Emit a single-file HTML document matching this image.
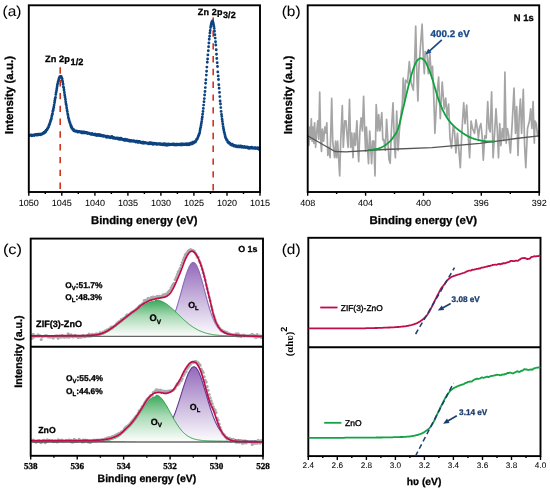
<!DOCTYPE html>
<html><head><meta charset="utf-8"><style>html,body{margin:0;padding:0;background:#fff;overflow:hidden}svg{display:block}text{text-rendering:geometricPrecision}</style></head>
<body><svg width="550" height="491" viewBox="0 0 550 491">
<defs>
<filter id="bl" x="0" y="0" width="550" height="491" filterUnits="userSpaceOnUse"><feGaussianBlur stdDeviation="0.45"/></filter>
<linearGradient id="gv" x1="0" y1="0" x2="0" y2="1"><stop offset="0" stop-color="#3aa85a"/><stop offset="0.45" stop-color="#a9dab5"/><stop offset="1" stop-color="#fdfefd"/></linearGradient>
<linearGradient id="gl" x1="0" y1="0" x2="0" y2="1"><stop offset="0" stop-color="#9468bb"/><stop offset="0.5" stop-color="#c9b6dd"/><stop offset="1" stop-color="#fdfcfe"/></linearGradient>
</defs>
<rect width="550" height="491" fill="#fff"/>
<g filter="url(#bl)">
<path d="M60.2 67.3V189.5M213.2 17.6V191" stroke="#d0361e" stroke-width="1.6" stroke-dasharray="6.4 6.4" fill="none"/>
<path d="M29.4 135.4h0M29.7 135.5h0M30.1 135.3h0M30.4 135.1h0M30.7 135.2h0M31 135h0M31.4 135.4h0M31.7 135.8h0M32 135.2h0M32.4 135.1h0M32.7 135.5h0M33 135.4h0M33.4 135.3h0M33.7 135h0M34 135.3h0M34.3 135.5h0M34.7 134.8h0M35 135h0M35.3 134.5h0M35.7 134.7h0M36 134.5h0M36.3 135h0M36.7 134.6h0M37 135.1h0M37.3 135.1h0M37.6 134.9h0M38 134.1h0M38.3 134.7h0M38.6 134.8h0M39 134.8h0M39.3 134.2h0M39.6 134.5h0M40 134.2h0M40.3 134.2h0M40.6 134.8h0M40.9 134h0M41.3 134.2h0M41.6 134.4h0M41.9 133.7h0M42.3 133.8h0M42.6 133.7h0M42.9 133.5h0M43.3 132.9h0M43.6 133.1h0M43.9 133.3h0M44.2 132.1h0M44.6 132.7h0M44.9 132.1h0M45.2 131.5h0M45.6 132.1h0M45.9 131.3h0M46.2 130.2h0M46.6 130.2h0M46.9 129.9h0M47.2 129.1h0M47.5 128.9h0M47.9 128h0M48.2 127.6h0M48.5 127.2h0M48.9 125.7h0M49.2 125.3h0M49.5 124.2h0M49.9 123.5h0M50.2 122.1h0M50.5 121.2h0M50.8 120.3h0M51.2 119.5h0M51.5 118.3h0M51.8 116.1h0M52.2 114.8h0M52.5 113.8h0M52.8 111.3h0M53.2 110.2h0M53.5 108.5h0M53.8 107.2h0M54.1 105.1h0M54.5 102.8h0M54.8 100.8h0M55.1 98.8h0M55.5 97.4h0M55.8 94.6h0M56.1 92.6h0M56.5 90.8h0M56.8 88.7h0M57.1 86.8h0M57.4 84.7h0M57.8 83.4h0M58.1 81.7h0M58.4 80.9h0M58.8 79.5h0M59.1 78.3h0M59.4 77.7h0M59.8 76.7h0M60.1 76.9h0M60.4 76.4h0M60.7 76.7h0M61.1 76.4h0M61.4 77.6h0M61.7 77.8h0M62.1 78.8h0M62.4 80.8h0M62.7 82.1h0M63.1 84.2h0M63.4 86.9h0M63.7 87.8h0M64 90h0M64.4 92.5h0M64.7 94.9h0M65 96.9h0M65.4 99.2h0M65.7 101.8h0M66 103.9h0M66.4 105.6h0M66.7 108h0M67 110.1h0M67.3 111.6h0M67.7 113.9h0M68 115.3h0M68.3 117.5h0M68.7 118.8h0M69 120.1h0M69.3 121.2h0M69.7 122.5h0M70 122.9h0M70.3 124.2h0M70.6 125.6h0M71 125.5h0M71.3 127.3h0M71.6 127h0M72 128.4h0M72.3 128.4h0M72.6 129.3h0M73 129.5h0M73.3 129.2h0M73.6 130.5h0M73.9 130.8h0M74.3 130.5h0M74.6 130.6h0M74.9 130.8h0M75.3 130.6h0M75.6 131.4h0M75.9 130.9h0M76.3 131.2h0M76.6 131.1h0M76.9 131.2h0M77.2 131.1h0M77.6 132.1h0M77.9 131.7h0M78.2 132.1h0M78.6 131.9h0M78.9 131.7h0M79.2 131.8h0M79.6 131.8h0M79.9 132.1h0M80.2 132h0M80.5 132h0M80.9 131.7h0M81.2 131.9h0M81.5 132.8h0M81.9 132.1h0M82.2 132h0M82.5 132.5h0M82.9 132.9h0M83.2 131.9h0M83.5 132.4h0M83.8 132.3h0M84.2 131.9h0M84.5 132.8h0M84.8 132.6h0M85.2 132.7h0M85.5 132.5h0M85.8 132.9h0M86.2 132.7h0M86.5 132.9h0M86.8 132.6h0M87.1 132.6h0M87.5 133.6h0M87.8 133h0M88.1 133.3h0M88.5 133.3h0M88.8 133.2h0M89.1 133.2h0M89.5 133.7h0M89.8 133.4h0M90.1 133.6h0M90.4 133.7h0M90.8 134.2h0M91.1 134h0M91.4 134h0M91.8 133.7h0M92.1 133.5h0M92.4 134.4h0M92.8 134.5h0M93.1 134.1h0M93.4 134.4h0M93.7 134.6h0M94.1 134.7h0M94.4 134.8h0M94.7 134.3h0M95.1 135.1h0M95.4 134.2h0M95.7 135h0M96.1 134.9h0M96.4 135.1h0M96.7 135.5h0M97 135.5h0M97.4 134.6h0M97.7 134.5h0M98 135.4h0M98.4 134.8h0M98.7 135.3h0M99 135.6h0M99.4 134.8h0M99.7 134.7h0M100 135.6h0M100.3 135.6h0M100.7 135.5h0M101 135.7h0M101.3 135.4h0M101.7 135.3h0M102 135.8h0M102.3 135.6h0M102.7 135.4h0M103 136.2h0M103.3 136.1h0M103.6 136.3h0M104 135.8h0M104.3 136h0M104.6 136h0M105 136.1h0M105.3 136.5h0M105.6 136.2h0M106 136.7h0M106.3 136.7h0M106.6 137.4h0M106.9 136.2h0M107.3 137.1h0M107.6 136.8h0M107.9 136.9h0M108.3 136.4h0M108.6 136.8h0M108.9 137.3h0M109.3 137.1h0M109.6 137.2h0M109.9 137.1h0M110.2 137.7h0M110.6 137.3h0M110.9 136.6h0M111.2 137.2h0M111.6 136.8h0M111.9 136.4h0M112.2 137.4h0M112.6 138.1h0M112.9 137.7h0M113.2 137.4h0M113.5 137.5h0M113.9 138.3h0M114.2 138h0M114.5 138h0M114.9 138h0M115.2 138.1h0M115.5 138.5h0M115.9 138.4h0M116.2 138.4h0M116.5 138h0M116.8 138.6h0M117.2 138.2h0M117.5 138.9h0M117.8 138.1h0M118.2 138.6h0M118.5 138.7h0M118.8 138.3h0M119.2 139.4h0M119.5 139.4h0M119.8 138.7h0M120.1 139.2h0M120.5 139.1h0M120.8 138.2h0M121.1 139.2h0M121.5 139.2h0M121.8 139.3h0M122.1 138.9h0M122.5 139.3h0M122.8 139.3h0M123.1 139.9h0M123.4 139.6h0M123.8 139.6h0M124.1 140.2h0M124.4 139.5h0M124.8 139.6h0M125.1 139.2h0M125.4 140.4h0M125.8 140.2h0M126.1 140.3h0M126.4 140.3h0M126.7 140.1h0M127.1 140.2h0M127.4 140.1h0M127.7 140.2h0M128.1 140.3h0M128.4 140.9h0M128.7 140.6h0M129.1 140.5h0M129.4 140.3h0M129.7 140.4h0M130 141.2h0M130.4 140.9h0M130.7 140.8h0M131 140.7h0M131.4 140.4h0M131.7 140.9h0M132 141.2h0M132.4 140.8h0M132.7 140.9h0M133 141h0M133.3 141.2h0M133.7 140.6h0M134 141.1h0M134.3 141h0M134.7 141.6h0M135 141.1h0M135.3 141.6h0M135.7 142h0M136 141.4h0M136.3 141.3h0M136.6 141.7h0M137 141.6h0M137.3 141.3h0M137.6 141.9h0M138 142.5h0M138.3 141.7h0M138.6 141.8h0M139 141.6h0M139.3 142.1h0M139.6 141.6h0M139.9 141.7h0M140.3 142.6h0M140.6 141.9h0M140.9 142.6h0M141.3 142.8h0M141.6 142.4h0M141.9 142.6h0M142.3 143.1h0M142.6 142.4h0M142.9 142.3h0M143.2 142.1h0M143.6 142.6h0M143.9 143.2h0M144.2 143h0M144.6 142.4h0M144.9 142.5h0M145.2 142.7h0M145.6 143h0M145.9 142.9h0M146.2 143h0M146.5 143.1h0M146.9 143h0M147.2 143.1h0M147.5 143.2h0M147.9 143.2h0M148.2 143.4h0M148.5 143.9h0M148.9 143.5h0M149.2 143.3h0M149.5 142.8h0M149.8 143.5h0M150.2 142.7h0M150.5 142.9h0M150.8 143.8h0M151.2 143.7h0M151.5 143.5h0M151.8 142.9h0M152.2 143.4h0M152.5 143.4h0M152.8 143.8h0M153.1 144.4h0M153.5 143.8h0M153.8 143.4h0M154.1 143.3h0M154.5 143.7h0M154.8 143.7h0M155.1 143.4h0M155.5 143.9h0M155.8 143.5h0M156.1 144.3h0M156.4 144.3h0M156.8 144.3h0M157.1 143.8h0M157.4 144.2h0M157.8 144h0M158.1 143.9h0M158.4 144h0M158.8 143.6h0M159.1 143.6h0M159.4 144.4h0M159.7 144.1h0M160.1 144.3h0M160.4 144.6h0M160.7 143.6h0M161.1 144h0M161.4 144.4h0M161.7 144.5h0M162.1 144.2h0M162.4 144.7h0M162.7 144.4h0M163 144h0M163.4 144.1h0M163.7 144.7h0M164 144.6h0M164.4 143.7h0M164.7 144.9h0M165 144.6h0M165.4 144.9h0M165.7 144.3h0M166 144.4h0M166.3 144.1h0M166.7 145.4h0M167 144.4h0M167.3 145h0M167.7 144.3h0M168 144.6h0M168.3 143.9h0M168.7 144.4h0M169 144.9h0M169.3 144.1h0M169.6 144.9h0M170 144.7h0M170.3 144.2h0M170.6 144.4h0M171 144.4h0M171.3 144.5h0M171.6 144.4h0M172 144.3h0M172.3 144.5h0M172.6 144.2h0M172.9 144.1h0M173.3 144.6h0M173.6 144.9h0M173.9 144h0M174.3 144.6h0M174.6 144.4h0M174.9 144.2h0M175.3 144.9h0M175.6 144.4h0M175.9 145.1h0M176.2 144.3h0M176.6 144.7h0M176.9 144.5h0M177.2 144.3h0M177.6 144.8h0M177.9 144.5h0M178.2 144.8h0M178.6 144.6h0M178.9 144.2h0M179.2 144.5h0M179.5 144.6h0M179.9 144.9h0M180.2 144.2h0M180.5 144.5h0M180.9 143.9h0M181.2 144.8h0M181.5 144.1h0M181.9 143.9h0M182.2 144.5h0M182.5 144.9h0M182.8 144h0M183.2 144.1h0M183.5 144.2h0M183.8 144.1h0M184.2 144.6h0M184.5 144.1h0M184.8 144.1h0M185.2 144.6h0M185.5 144.1h0M185.8 144.5h0M186.1 144h0M186.5 143.9h0M186.8 143.6h0M187.1 144.9h0M187.5 144.1h0M187.8 144.3h0M188.1 144.1h0M188.5 144.2h0M188.8 144.1h0M189.1 144.7h0M189.4 143.6h0M189.8 143.4h0M190.1 143.5h0M190.4 143.3h0M190.8 144h0M191.1 144h0M191.4 143.3h0M191.8 143h0M192.1 143.3h0M192.4 143.8h0M192.7 142.2h0M193.1 143.2h0M193.4 142.5h0M193.7 143.1h0M194.1 142.2h0M194.4 142.2h0M194.7 141.6h0M195.1 141.5h0M195.4 142h0M195.7 141.5h0M196 140.7h0M196.4 140.1h0M196.7 139.2h0M197 139.2h0M197.4 138.7h0M197.7 138h0M198 137.2h0M198.4 136h0M198.7 135.5h0M199 134.4h0M199.3 133.7h0M199.7 132.7h0M200 130.6h0M200.3 128.8h0M200.7 127.4h0M201 125.4h0M201.3 123.4h0M201.7 121.5h0M202 118.9h0M202.3 117h0M202.6 114.2h0M203 111.5h0M203.3 108.4h0M203.6 105.1h0M204 101.8h0M204.3 98.6h0M204.6 95h0M205 91.5h0M205.3 87.6h0M205.6 83.2h0M205.9 79.7h0M206.3 75.1h0M206.6 71.2h0M206.9 67.1h0M207.3 62.3h0M207.6 59h0M207.9 54.9h0M208.3 50.8h0M208.6 46.8h0M208.9 43h0M209.2 39.3h0M209.6 36.2h0M209.9 33h0M210.2 30.5h0M210.6 27.5h0M210.9 25.9h0M211.2 24.2h0M211.6 22.8h0M211.9 21.8h0M212.2 21.7h0M212.5 20.9h0M212.9 22.1h0M213.2 23h0M213.5 24.5h0M213.9 26.5h0M214.2 28.4h0M214.5 31.3h0M214.9 34.7h0M215.2 38.1h0M215.5 41.7h0M215.8 45h0M216.2 49.8h0M216.5 54.3h0M216.8 58.5h0M217.2 62.7h0M217.5 66.5h0M217.8 71.9h0M218.2 75.9h0M218.5 79.5h0M218.8 84.8h0M219.1 88.3h0M219.5 92.4h0M219.8 96.6h0M220.1 101h0M220.5 104h0M220.8 107.6h0M221.1 111.4h0M221.5 114.4h0M221.8 116.6h0M222.1 119.3h0M222.4 121.4h0M222.8 123.9h0M223.1 126.4h0M223.4 128.3h0M223.8 130h0M224.1 132h0M224.4 132.8h0M224.8 134.4h0M225.1 135.9h0M225.4 137h0M225.7 138.1h0M226.1 138.8h0M226.4 139.3h0M226.7 140.3h0M227.1 140.4h0M227.4 140.7h0M227.7 142h0M228.1 142.2h0M228.4 142.8h0M228.7 142.4h0M229 143.2h0M229.4 143.4h0M229.7 143.5h0M230 143.3h0M230.4 144.1h0M230.7 144.8h0M231 144.7h0M231.4 144.5h0M231.7 144.9h0M232 145.3h0M232.3 144.1h0M232.7 145.2h0M233 145.5h0M233.3 145.6h0M233.7 146.1h0M234 146h0M234.3 145.7h0M234.7 145.8h0M235 146h0M235.3 145.6h0M235.6 145.9h0M236 146.3h0M236.3 146.7h0M236.6 146h0M237 146.1h0M237.3 146.2h0M237.6 146.7h0M238 146.2h0M238.3 146.8h0M238.6 146h0M238.9 146.3h0M239.3 146.4h0M239.6 146.7h0M239.9 146.9h0M240.3 146h0M240.6 146.3h0M240.9 146.8h0M241.3 146.5h0M241.6 146.2h0M241.9 147.2h0M242.2 147h0M242.6 147h0M242.9 146.8h0M243.2 147.3h0M243.6 146.9h0M243.9 147.4h0M244.2 146.8h0M244.6 146.8h0M244.9 147.2h0M245.2 146.9h0M245.5 147.5h0M245.9 147.4h0M246.2 147h0M246.5 147.4h0M246.9 147.3h0M247.2 147.7h0M247.5 147.2h0M247.9 147.3h0M248.2 147.9h0M248.5 148.3h0M248.8 148.3h0M249.2 147.6h0M249.5 147.7h0M249.8 148.2h0M250.2 147.7h0M250.5 147.4h0M250.8 147.8h0M251.2 148h0M251.5 147.5h0M251.8 147.3h0M252.1 147.4h0M252.5 148.2h0M252.8 147.7h0M253.1 147.9h0M253.5 148.1h0M253.8 148.3h0M254.1 148h0M254.5 148.3h0M254.8 147.8h0M255.1 148h0M255.4 147.8h0M255.8 148.6h0M256.1 148.2h0M256.4 148h0M256.8 148.2h0M257.1 148.2h0M257.4 148.6h0M257.8 147.8h0M258.1 148h0M258.4 148.3h0M258.7 149.3h0M259.1 148.8h0M259.4 148.5h0" fill="none" stroke="#0b4280" stroke-width="2.9" stroke-linecap="round"/>
<rect x="28.8" y="5.3" width="231.2" height="186.7" fill="none" stroke="#000" stroke-width="1.9"/>
<path d="M28.8 192v3.8M61.8 192v3.8M94.9 192v3.8M127.9 192v3.8M160.9 192v3.8M193.9 192v3.8M227 192v3.8M260 192v3.8M45.3 192v2M78.3 192v2M111.4 192v2M144.4 192v2M177.4 192v2M210.5 192v2M243.5 192v2" stroke="#000" stroke-width="1.4" fill="none"/>
<text x="28.8" y="206.2" font-size="9" font-weight="normal" font-family='"Liberation Sans", sans-serif' text-anchor="middle" fill="#000" stroke="#000" stroke-width="0.05" >1050</text>
<text x="61.8" y="206.2" font-size="9" font-weight="normal" font-family='"Liberation Sans", sans-serif' text-anchor="middle" fill="#000" stroke="#000" stroke-width="0.05" >1045</text>
<text x="94.9" y="206.2" font-size="9" font-weight="normal" font-family='"Liberation Sans", sans-serif' text-anchor="middle" fill="#000" stroke="#000" stroke-width="0.05" >1040</text>
<text x="127.9" y="206.2" font-size="9" font-weight="normal" font-family='"Liberation Sans", sans-serif' text-anchor="middle" fill="#000" stroke="#000" stroke-width="0.05" >1035</text>
<text x="160.9" y="206.2" font-size="9" font-weight="normal" font-family='"Liberation Sans", sans-serif' text-anchor="middle" fill="#000" stroke="#000" stroke-width="0.05" >1030</text>
<text x="193.9" y="206.2" font-size="9" font-weight="normal" font-family='"Liberation Sans", sans-serif' text-anchor="middle" fill="#000" stroke="#000" stroke-width="0.05" >1025</text>
<text x="227" y="206.2" font-size="9" font-weight="normal" font-family='"Liberation Sans", sans-serif' text-anchor="middle" fill="#000" stroke="#000" stroke-width="0.05" >1020</text>
<text x="260" y="206.2" font-size="9" font-weight="normal" font-family='"Liberation Sans", sans-serif' text-anchor="middle" fill="#000" stroke="#000" stroke-width="0.05" >1015</text>
<text x="91" y="224" font-size="11.2" font-weight="bold" font-family='"Liberation Sans", sans-serif' text-anchor="start" fill="#000" stroke="#000" stroke-width="0.3" textLength="106.5" lengthAdjust="spacingAndGlyphs">Binding energy (eV)</text>
<text x="13.3" y="95" font-size="11.5" font-weight="bold" font-family='"Liberation Sans", sans-serif' text-anchor="middle" fill="#000" stroke="#000" stroke-width="0.3" transform="rotate(-90 13.3 95.0)">Intensity (a.u.)</text>
<text x="0" y="0" font-size="14.3" font-weight="normal" font-family='"Liberation Sans", sans-serif' text-anchor="start" fill="#000" stroke="#000" stroke-width="0.05" transform="translate(2.5 15.9) scale(1.08 1)">(a)</text>
<text x="45" y="62.3" font-size="9.2" font-weight="bold" font-family='"Liberation Sans", sans-serif' text-anchor="start" fill="#000" stroke="#000" stroke-width="0.3" letter-spacing="0.1">Zn 2p<tspan dx="0.5" dy="2.7">1/2</tspan></text>
<text x="197.8" y="15.4" font-size="9.0" font-weight="bold" font-family='"Liberation Sans", sans-serif' text-anchor="start" fill="#000" stroke="#000" stroke-width="0.3" letter-spacing="0.15">Zn 2p<tspan dx="0.4" dy="2.4">3/2</tspan></text>
<path d="M308.9 145.3 309.7 127 310.5 139.2 311.3 118.8 312.1 141.2 312.9 127 313.8 143.3 314.6 122.9 315.6 147.3 316.6 133 317.8 120.8 318.7 139.2 319.7 92.2 320.7 141.2 321.5 151.4 322.3 129 323.6 141.2 324.8 127 325.8 133 326.8 122.9 327.8 155.5 328.9 147.3 330.1 157.6 331.7 98.4 332.7 141.2 334.6 157.6 335.6 141.2 336.6 157.6 337.6 141.2 339.7 175.9 340.7 141.2 342.3 105.5 343.3 147.3 344.8 120.8 346 120.8 347 135 348.1 147.3 349.5 99.4 350.7 147.3 351.8 133 353 157.6 354.2 133 355.4 145.3 356.9 120.8 357.9 149.4 358.7 161.6 359.9 131 361.1 117.8 362.4 131 363.6 96.3 364.8 133 365.6 151.4 366.4 127 367.5 147.3 368.5 163.7 369.7 131 370.7 147.3 371.6 163.7 372.6 141.2 373.8 141.2 375 175.9 376.2 104.5 377.7 131 378.7 114.7 379.9 131 381.8 112.7 382.8 140 383.8 139.5 385.3 150.4 386.6 119.3 387.8 140 389 159.6 390.2 163.3 391.2 135 393 102.8 394.5 145 395.4 157.8 396.7 111 398.1 150.4 399.4 130.3 401.2 112 402.3 104.7 403.2 78.2 404.5 102.9 405.6 80 407.5 82.8 409.3 61.7 411.1 82.8 413.3 90.1 414.8 57.1 415.7 26 417 79.1 417.9 101 418.8 70 420.6 44.3 422.1 24.2 423.4 59 424.3 73.6 425.2 51.6 427 53.5 428.3 73.6 429.8 53.5 431.3 75.4 432.5 66.3 433.8 97.4 434.9 133.3 436.8 96.7 438.6 77.1 440.3 118.7 442.2 82 444.2 108.9 445.7 98 447.1 116.2 448.6 104 450 138.2 451.5 148 453.2 126 454.5 131 455.9 152.9 457.4 133.3 458.9 150.5 460.3 167.6 461.8 133.3 463.7 102.8 465 123.6 466.7 105.2 468.1 133.3 469.6 157.8 471.1 121.1 472.5 128.5 474.5 133.3 476 119.9 477.7 130.9 478.4 138.2 479.5 128 480.9 123.6 482.1 135.8 483.3 160.2 484.8 135.8 486.2 138 487.7 101.6 489 128.5 490.2 132 491.6 91.8 493.1 157.8 494.6 133.3 496 108.9 497.3 130 498.5 157.8 499.7 123.6 500.9 145.6 502.4 128.5 503.9 140.7 504.9 72.2 506.2 143.1 507.4 128.5 508.6 135 510.4 152.9 512.3 121.1 514 88.1 515.5 133.3 516.7 106.5 518 155.4 519.2 116.2 520.4 99.1 521.6 133.3 523.3 89.3 524.6 145.6 525.8 167.6 527.5 128.5 529.4 121.1 530.7 108.9 531.9 128.5 533.1 101.6 534.3 143.1 535.1 121.1 536.3 123.6 537.5 135.8 538.4 131" fill="none" stroke="#a5a5a5" stroke-width="1.7" stroke-linejoin="round" stroke-linecap="round" />
<path d="M308 136 335 151.5 346 151.8 384 149.5 432 147.7 480 143.3 516 138.5 539 135.8" fill="none" stroke="#555555" stroke-width="1.3" stroke-linejoin="round" stroke-linecap="round" />
<path d="M369 149.9 370.1 149.9 371.1 149.8 372.2 149.7 373.2 149.6 374.3 149.4 375.3 149.2 376.4 149 377.4 148.8 378.5 148.5 379.5 148.1 380.6 147.7 381.6 147.3 382.7 146.8 383.7 146.2 384.8 145.5 385.8 144.7 386.9 143.9 387.9 143.1 389 142.2 390 141.3 391.1 140.2 392.1 138.9 393.2 137.3 394.2 135.8 395.3 134.4 396.3 132.8 397.4 130.6 398.4 127.8 399.5 124 400.5 119.7 401.6 115.1 402.6 110.5 403.7 106 404.7 101.6 405.8 97.1 406.8 92.7 407.9 88.3 408.9 84.2 410 80.2 411 76.3 412.1 72.7 413.1 69.5 414.2 66.7 415.2 64 416.3 61.8 417.3 60.5 418.4 59.4 419.4 58.6 420.5 58.2 421.5 58.4 422.6 58.9 423.6 59.7 424.7 60.7 425.7 62.2 426.8 64.4 427.8 66.9 428.9 69.4 429.9 72.1 431 75 432 78.1 433.1 81.3 434.1 85 435.2 88.7 436.2 92.2 437.3 95.7 438.3 98.9 439.4 101.9 440.4 104.6 441.5 107.2 442.5 109.6 443.6 111.7 444.6 113.7 445.7 115.6 446.7 117.3 447.8 118.9 448.8 120.4 449.9 121.7 450.9 123 452 124.1 453 125.2 454.1 126.2 455.1 127.2 456.2 128.1 457.2 128.9 458.3 129.8 459.3 130.6 460.4 131.4 461.4 132.1 462.5 132.9 463.5 133.6 464.6 134.3 465.6 134.9 466.7 135.5 467.7 136.1 468.8 136.6 469.8 137.1 470.9 137.6 471.9 138 473 138.4 474 138.8 475.1 139.1 476.1 139.4 477.2 139.7 478.2 140 479.3 140.2 480.3 140.4 481.4 140.6 482.4 140.8 483.5 141 484.5 141.1 485.6 141.2 486.6 141.3 487.7 141.4 488.7 141.4 489.8 141.4 490.8 141.5 491.9 141.5 492.9 141.5 494 141.5" fill="none" stroke="#10a23e" stroke-width="1.8" stroke-linejoin="round" stroke-linecap="round" />
<rect x="307.7" y="5.3" width="231.5" height="186.7" fill="none" stroke="#000" stroke-width="1.9"/>
<path d="M307.7 192v3.8M365.6 192v3.8M423.5 192v3.8M481.3 192v3.8M539.2 192v3.8M336.6 192v2M394.5 192v2M452.4 192v2M510.3 192v2" stroke="#000" stroke-width="1.4" fill="none"/>
<text x="307.7" y="206.2" font-size="9" font-weight="normal" font-family='"Liberation Sans", sans-serif' text-anchor="middle" fill="#000" stroke="#000" stroke-width="0.05" >408</text>
<text x="365.6" y="206.2" font-size="9" font-weight="normal" font-family='"Liberation Sans", sans-serif' text-anchor="middle" fill="#000" stroke="#000" stroke-width="0.05" >404</text>
<text x="423.5" y="206.2" font-size="9" font-weight="normal" font-family='"Liberation Sans", sans-serif' text-anchor="middle" fill="#000" stroke="#000" stroke-width="0.05" >400</text>
<text x="481.3" y="206.2" font-size="9" font-weight="normal" font-family='"Liberation Sans", sans-serif' text-anchor="middle" fill="#000" stroke="#000" stroke-width="0.05" >396</text>
<text x="539.2" y="206.2" font-size="9" font-weight="normal" font-family='"Liberation Sans", sans-serif' text-anchor="middle" fill="#000" stroke="#000" stroke-width="0.05" >392</text>
<text x="369.6" y="224" font-size="11.2" font-weight="bold" font-family='"Liberation Sans", sans-serif' text-anchor="start" fill="#000" stroke="#000" stroke-width="0.3" textLength="107.5" lengthAdjust="spacingAndGlyphs">Binding energy (eV)</text>
<text x="292" y="94.9" font-size="11.6" font-weight="bold" font-family='"Liberation Sans", sans-serif' text-anchor="middle" fill="#000" stroke="#000" stroke-width="0.3" transform="rotate(-90 292.0 94.9)">Intensity (a.u.)</text>
<text x="0" y="0" font-size="14" font-weight="normal" font-family='"Liberation Sans", sans-serif' text-anchor="start" fill="#000" stroke="#000" stroke-width="0.05" transform="translate(281.7 16.1) scale(1.1 1)">(b)</text>
<text x="533.6" y="20.5" font-size="9.6" font-weight="bold" font-family='"Liberation Sans", sans-serif' text-anchor="end" fill="#000" stroke="#000" stroke-width="0.3" textLength="19.8" lengthAdjust="spacingAndGlyphs">N 1s</text>
<text x="430.6" y="37.4" font-size="9.8" font-weight="bold" font-family='"Liberation Sans", sans-serif' text-anchor="start" fill="#1b4c88" stroke="#1b4c88" stroke-width="0.3" >400.2 eV</text>
<path d="M441.8 39.9L429.1 51.3" stroke="#1b4c88" stroke-width="1.8" fill="none"/>
<path d="M425.4 54.6L428.2 48.7L431.5 52.5Z" fill="#1b4c88"/>
<path d="M95.7 335.8 96.2 335.8 96.7 335.8 97.2 335.8 97.7 335.8 98.2 335.8 98.7 335.8 99.2 335.8 99.7 335.8 100.2 335.8 100.7 335.8 101.2 335.8 101.7 335.8 102.2 335.8 102.7 335.8 103.2 335.8 103.7 335.8 104.2 335.8 104.7 335.8 105.2 335.8 105.7 335.8 106.2 335.8 106.7 335.8 107.2 335.8 107.7 335.8 108.2 335.8 108.7 335.8 109.2 335.8 109.7 335.8 110.2 335.8 110.7 335.8 111.2 335.8 111.7 335.8 112.2 335.8 112.7 335.8 113.2 335.8 113.7 335.8 114.2 335.8 114.7 335.8 115.2 335.8 115.7 335.8 116.2 335.8 116.7 335.8 117.2 335.8 117.7 335.8 118.2 335.7 118.7 335.7 119.2 335.7 119.7 335.7 120.2 335.7 120.7 335.7 121.2 335.7 121.7 335.7 122.2 335.7 122.7 335.7 123.2 335.7 123.7 335.7 124.2 335.7 124.7 335.7 125.2 335.7 125.7 335.7 126.2 335.7 126.7 335.7 127.2 335.7 127.7 335.7 128.2 335.7 128.7 335.7 129.2 335.7 129.7 335.7 130.2 335.6 130.7 335.6 131.2 335.6 131.7 335.6 132.2 335.6 132.7 335.6 133.2 335.6 133.7 335.6 134.2 335.6 134.7 335.6 135.2 335.6 135.7 335.6 136.2 335.6 136.7 335.6 137.2 335.6 137.7 335.6 138.2 335.5 138.7 335.5 139.2 335.5 139.7 335.5 140.2 335.5 140.7 335.5 141.2 335.5 141.7 335.5 142.2 335.5 142.7 335.5 143.2 335.4 143.7 335.4 144.2 335.4 144.7 335.4 145.2 335.4 145.7 335.4 146.2 335.4 146.7 335.3 147.2 335.3 147.7 335.3 148.2 335.3 148.7 335.3 149.2 335.2 149.7 335.2 150.2 335.2 150.7 335.2 151.2 335.1 151.7 335.1 152.2 335 152.7 335 153.2 334.9 153.7 334.9 154.2 334.8 154.7 334.8 155.2 334.7 155.7 334.6 156.2 334.5 156.7 334.4 157.2 334.3 157.7 334.2 158.2 334.1 158.7 333.9 159.2 333.8 159.7 333.6 160.2 333.4 160.7 333.2 161.2 333 161.7 332.7 162.2 332.4 162.7 332.1 163.2 331.8 163.7 331.5 164.2 331.1 164.7 330.7 165.2 330.3 165.7 329.8 166.2 329.3 166.7 328.7 167.2 328.1 167.7 327.5 168.2 326.8 168.7 326.1 169.2 325.3 169.7 324.5 170.2 323.6 170.7 322.7 171.2 321.7 171.7 320.7 172.2 319.6 172.7 318.5 173.2 317.3 173.7 316.1 174.2 314.8 174.7 313.4 175.2 312 175.7 310.6 176.2 309.1 176.7 307.5 177.2 305.9 177.7 304.3 178.2 302.6 178.7 300.9 179.2 299.1 179.7 297.4 180.2 295.6 180.7 293.8 181.2 292 181.7 290.2 182.2 288.3 182.7 286.5 183.2 284.7 183.7 282.9 184.2 281.2 184.7 279.5 185.2 277.8 185.7 276.2 186.2 274.6 186.7 273.1 187.2 271.7 187.7 270.3 188.2 269.1 188.7 267.9 189.2 266.8 189.7 265.9 190.2 265 190.7 264.3 191.2 263.7 191.7 263.2 192.2 262.8 192.7 262.6 193.2 262.5 193.7 262.5 194.2 262.7 194.7 263.1 195.2 263.5 195.7 264.1 196.2 264.9 196.7 265.8 197.2 266.8 197.7 267.9 198.2 269.1 198.7 270.4 199.2 271.8 199.7 273.3 200.2 274.9 200.7 276.6 201.2 278.3 201.7 280 202.2 281.8 202.7 283.7 203.2 285.5 203.7 287.4 204.2 289.3 204.7 291.2 205.2 293.1 205.7 295 206.2 296.9 206.7 298.7 207.2 300.6 207.7 302.3 208.2 304.1 208.7 305.8 209.2 307.5 209.7 309.1 210.2 310.7 210.7 312.2 211.2 313.6 211.7 315 212.2 316.4 212.7 317.6 213.2 318.9 213.7 320 214.2 321.1 214.7 322.2 215.2 323.2 215.7 324.1 216.2 325 216.7 325.8 217.2 326.6 217.7 327.3 218.2 328 218.7 328.6 219.2 329.2 219.7 329.7 220.2 330.2 220.7 330.7 221.2 331.1 221.7 331.5 222.2 331.9 222.7 332.2 223.2 332.5 223.7 332.8 224.2 333 224.7 333.3 225.2 333.5 225.7 333.7 226.2 333.8 226.7 334 227.2 334.1 227.7 334.3 228.2 334.4 228.7 334.5 229.2 334.6 229.7 334.7 230.2 334.7 230.7 334.8 231.2 334.9 231.7 334.9 232.2 335 232.7 335 233.2 335.1 233.7 335.1 234.2 335.2 234.7 335.2 235.2 335.2 235.7 335.2 236.2 335.3 236.7 335.3 237.2 335.3 237.7 335.3 238.2 335.4 238.7 335.4 239.2 335.4 239.7 335.4 240.2 335.4 240.7 335.4 241.2 335.4 241.7 335.5 242.2 335.5 242.7 335.5 243.2 335.5 243.7 335.5 244.2 335.5 244.7 335.5 245.2 335.5 245.7 335.5 246.2 335.5 246.7 335.6 247.2 335.6 247.7 335.6 248.2 335.6 248.7 335.6 249.2 335.6 249.7 335.6 250.2 335.6 250.7 335.6 251.2 335.6 251.7 335.6 252.2 335.6 252.7 335.6 253.2 335.6 253.7 335.6 254.2 335.7 254.7 335.7 255.2 335.7 255.7 335.7 256.2 335.7 256.7 335.7 257.2 335.7 257.7 335.7 258.2 335.7 258.7 335.7 259.2 335.7 259.7 335.7 260.2 335.7 260.7 335.7 261.2 335.7 261.7 335.7L261.7 336L95.7 336Z" fill="url(#gl)"/>
<path d="M95.7 335.8 96.2 335.8 96.7 335.8 97.2 335.8 97.7 335.8 98.2 335.8 98.7 335.8 99.2 335.8 99.7 335.8 100.2 335.8 100.7 335.8 101.2 335.8 101.7 335.8 102.2 335.8 102.7 335.8 103.2 335.8 103.7 335.8 104.2 335.8 104.7 335.8 105.2 335.8 105.7 335.8 106.2 335.8 106.7 335.8 107.2 335.8 107.7 335.8 108.2 335.8 108.7 335.8 109.2 335.8 109.7 335.8 110.2 335.8 110.7 335.8 111.2 335.8 111.7 335.8 112.2 335.8 112.7 335.8 113.2 335.8 113.7 335.8 114.2 335.8 114.7 335.8 115.2 335.8 115.7 335.8 116.2 335.8 116.7 335.8 117.2 335.8 117.7 335.8 118.2 335.7 118.7 335.7 119.2 335.7 119.7 335.7 120.2 335.7 120.7 335.7 121.2 335.7 121.7 335.7 122.2 335.7 122.7 335.7 123.2 335.7 123.7 335.7 124.2 335.7 124.7 335.7 125.2 335.7 125.7 335.7 126.2 335.7 126.7 335.7 127.2 335.7 127.7 335.7 128.2 335.7 128.7 335.7 129.2 335.7 129.7 335.7 130.2 335.6 130.7 335.6 131.2 335.6 131.7 335.6 132.2 335.6 132.7 335.6 133.2 335.6 133.7 335.6 134.2 335.6 134.7 335.6 135.2 335.6 135.7 335.6 136.2 335.6 136.7 335.6 137.2 335.6 137.7 335.6 138.2 335.5 138.7 335.5 139.2 335.5 139.7 335.5 140.2 335.5 140.7 335.5 141.2 335.5 141.7 335.5 142.2 335.5 142.7 335.5 143.2 335.4 143.7 335.4 144.2 335.4 144.7 335.4 145.2 335.4 145.7 335.4 146.2 335.4 146.7 335.3 147.2 335.3 147.7 335.3 148.2 335.3 148.7 335.3 149.2 335.2 149.7 335.2 150.2 335.2 150.7 335.2 151.2 335.1 151.7 335.1 152.2 335 152.7 335 153.2 334.9 153.7 334.9 154.2 334.8 154.7 334.8 155.2 334.7 155.7 334.6 156.2 334.5 156.7 334.4 157.2 334.3 157.7 334.2 158.2 334.1 158.7 333.9 159.2 333.8 159.7 333.6 160.2 333.4 160.7 333.2 161.2 333 161.7 332.7 162.2 332.4 162.7 332.1 163.2 331.8 163.7 331.5 164.2 331.1 164.7 330.7 165.2 330.3 165.7 329.8 166.2 329.3 166.7 328.7 167.2 328.1 167.7 327.5 168.2 326.8 168.7 326.1 169.2 325.3 169.7 324.5 170.2 323.6 170.7 322.7 171.2 321.7 171.7 320.7 172.2 319.6 172.7 318.5 173.2 317.3 173.7 316.1 174.2 314.8 174.7 313.4 175.2 312 175.7 310.6 176.2 309.1 176.7 307.5 177.2 305.9 177.7 304.3 178.2 302.6 178.7 300.9 179.2 299.1 179.7 297.4 180.2 295.6 180.7 293.8 181.2 292 181.7 290.2 182.2 288.3 182.7 286.5 183.2 284.7 183.7 282.9 184.2 281.2 184.7 279.5 185.2 277.8 185.7 276.2 186.2 274.6 186.7 273.1 187.2 271.7 187.7 270.3 188.2 269.1 188.7 267.9 189.2 266.8 189.7 265.9 190.2 265 190.7 264.3 191.2 263.7 191.7 263.2 192.2 262.8 192.7 262.6 193.2 262.5 193.7 262.5 194.2 262.7 194.7 263.1 195.2 263.5 195.7 264.1 196.2 264.9 196.7 265.8 197.2 266.8 197.7 267.9 198.2 269.1 198.7 270.4 199.2 271.8 199.7 273.3 200.2 274.9 200.7 276.6 201.2 278.3 201.7 280 202.2 281.8 202.7 283.7 203.2 285.5 203.7 287.4 204.2 289.3 204.7 291.2 205.2 293.1 205.7 295 206.2 296.9 206.7 298.7 207.2 300.6 207.7 302.3 208.2 304.1 208.7 305.8 209.2 307.5 209.7 309.1 210.2 310.7 210.7 312.2 211.2 313.6 211.7 315 212.2 316.4 212.7 317.6 213.2 318.9 213.7 320 214.2 321.1 214.7 322.2 215.2 323.2 215.7 324.1 216.2 325 216.7 325.8 217.2 326.6 217.7 327.3 218.2 328 218.7 328.6 219.2 329.2 219.7 329.7 220.2 330.2 220.7 330.7 221.2 331.1 221.7 331.5 222.2 331.9 222.7 332.2 223.2 332.5 223.7 332.8 224.2 333 224.7 333.3 225.2 333.5 225.7 333.7 226.2 333.8 226.7 334 227.2 334.1 227.7 334.3 228.2 334.4 228.7 334.5 229.2 334.6 229.7 334.7 230.2 334.7 230.7 334.8 231.2 334.9 231.7 334.9 232.2 335 232.7 335 233.2 335.1 233.7 335.1 234.2 335.2 234.7 335.2 235.2 335.2 235.7 335.2 236.2 335.3 236.7 335.3 237.2 335.3 237.7 335.3 238.2 335.4 238.7 335.4 239.2 335.4 239.7 335.4 240.2 335.4 240.7 335.4 241.2 335.4 241.7 335.5 242.2 335.5 242.7 335.5 243.2 335.5 243.7 335.5 244.2 335.5 244.7 335.5 245.2 335.5 245.7 335.5 246.2 335.5 246.7 335.6 247.2 335.6 247.7 335.6 248.2 335.6 248.7 335.6 249.2 335.6 249.7 335.6 250.2 335.6 250.7 335.6 251.2 335.6 251.7 335.6 252.2 335.6 252.7 335.6 253.2 335.6 253.7 335.6 254.2 335.7 254.7 335.7 255.2 335.7 255.7 335.7 256.2 335.7 256.7 335.7 257.2 335.7 257.7 335.7 258.2 335.7 258.7 335.7 259.2 335.7 259.7 335.7 260.2 335.7 260.7 335.7 261.2 335.7 261.7 335.7" fill="none" stroke="#8a6cb8" stroke-width="1.1" stroke-linejoin="round" stroke-linecap="round" />
<path d="M96.7 335.8 97.2 335.7 97.7 335.6 98.2 335.5 98.7 335.4 99.2 335.3 99.7 335.1 100.2 335 100.7 334.8 101.2 334.7 101.7 334.5 102.2 334.4 102.7 334.2 103.2 334 103.7 333.8 104.2 333.6 104.7 333.3 105.2 333.1 105.7 332.8 106.2 332.6 106.7 332.3 107.2 332.1 107.7 331.8 108.2 331.5 108.7 331.2 109.2 330.9 109.7 330.5 110.2 330.2 110.7 329.9 111.2 329.6 111.7 329.2 112.2 328.9 112.7 328.5 113.2 328.2 113.7 327.8 114.2 327.5 114.7 327.1 115.2 326.7 115.7 326.3 116.2 325.9 116.7 325.6 117.2 325.2 117.7 324.8 118.2 324.4 118.7 324 119.2 323.7 119.7 323.3 120.2 322.9 120.7 322.5 121.2 322.1 121.7 321.7 122.2 321.3 122.7 320.9 123.2 320.5 123.7 320.1 124.2 319.7 124.7 319.3 125.2 318.9 125.7 318.5 126.2 318.1 126.7 317.8 127.2 317.4 127.7 317 128.2 316.6 128.7 316.2 129.2 315.8 129.7 315.4 130.2 315.1 130.7 314.7 131.2 314.3 131.7 313.9 132.2 313.6 132.7 313.2 133.2 312.9 133.7 312.6 134.2 312.3 134.7 312 135.2 311.6 135.7 311.3 136.2 310.9 136.7 310.6 137.2 310.2 137.7 309.7 138.2 309.3 138.7 308.8 139.2 308.3 139.7 307.8 140.2 307.4 140.7 307.1 141.2 306.7 141.7 306.3 142.2 306 142.7 305.7 143.2 305.4 143.7 305.1 144.2 304.8 144.7 304.5 145.2 304.2 145.7 304 146.2 303.7 146.7 303.5 147.2 303.3 147.7 303 148.2 302.8 148.7 302.6 149.2 302.4 149.7 302.3 150.2 302.1 150.7 302 151.2 301.8 151.7 301.7 152.2 301.6 152.7 301.5 153.2 301.4 153.7 301.3 154.2 301.3 154.7 301.2 155.2 301.2 155.7 300 156.2 300 156.7 300.1 157.2 300.1 157.7 300.2 158.2 300.3 158.7 300.4 159.2 300.5 159.7 300.6 160.2 300.8 160.7 300.9 161.2 301.1 161.7 301.3 162.2 301.6 162.7 301.8 163.2 302 163.7 302.3 164.2 302.6 164.7 302.9 165.2 303.2 165.7 303.5 166.2 303.8 166.7 304.2 167.2 304.6 167.7 304.9 168.2 305.3 168.7 305.7 169.2 306.1 169.7 306.5 170.2 306.9 170.7 307.3 171.2 307.8 171.7 308.2 172.2 308.7 172.7 309.1 173.2 309.6 173.7 310 174.2 310.5 174.7 311 175.2 311.5 175.7 311.9 176.2 312.4 176.7 312.9 177.2 313.4 177.7 313.9 178.2 314.4 178.7 314.8 179.2 315.3 179.7 315.8 180.2 316.3 180.7 316.8 181.2 317.3 181.7 317.7 182.2 318.2 182.7 318.7 183.2 319.1 183.7 319.6 184.2 320 184.7 320.5 185.2 320.9 185.7 321.4 186.2 321.8 186.7 322.2 187.2 322.7 187.7 323.1 188.2 323.5 188.7 323.9 189.2 324.3 189.7 324.7 190.2 325 190.7 325.4 191.2 325.8 191.7 326.1 192.2 326.5 192.7 326.8 193.2 327.2 193.7 327.5 194.2 327.8 194.7 328.1 195.2 328.4 195.7 328.7 196.2 329 196.7 329.3 197.2 329.5 197.7 329.8 198.2 330.1 198.7 330.3 199.2 330.5 199.7 330.8 200.2 331 200.7 331.2 201.2 331.4 201.7 331.6 202.2 331.8 202.7 332 203.2 332.2 203.7 332.4 204.2 332.5 204.7 332.7 205.2 332.9 205.7 333 206.2 333.2 206.7 333.3 207.2 333.4 207.7 333.6 208.2 333.7 208.7 333.8 209.2 333.9 209.7 334 210.2 334.1 210.7 334.2 211.2 334.3 211.7 334.4 212.2 334.5 212.7 334.6 213.2 334.7 213.7 334.7 214.2 334.8 214.7 334.9 215.2 334.9 215.7 335 216.2 335.1 216.7 335.1 217.2 335.2 217.7 335.2 218.2 335.3 218.7 335.3 219.2 335.3 219.7 335.4 220.2 335.4 220.7 335.5 221.2 335.5 221.7 335.5 222.2 335.6 222.7 335.6 223.2 335.6 223.7 335.6 224.2 335.7 224.7 335.7 225.2 335.7 225.7 335.7 226.2 335.7 226.7 335.8 227.2 335.8 227.7 335.8 228.2 335.8 228.7 335.8 229.2 335.8 229.7 335.8L229.7 336L96.7 336Z" fill="url(#gv)"/>
<path d="M96.7 335.8 97.2 335.7 97.7 335.6 98.2 335.5 98.7 335.4 99.2 335.3 99.7 335.1 100.2 335 100.7 334.8 101.2 334.7 101.7 334.5 102.2 334.4 102.7 334.2 103.2 334 103.7 333.8 104.2 333.6 104.7 333.3 105.2 333.1 105.7 332.8 106.2 332.6 106.7 332.3 107.2 332.1 107.7 331.8 108.2 331.5 108.7 331.2 109.2 330.9 109.7 330.5 110.2 330.2 110.7 329.9 111.2 329.6 111.7 329.2 112.2 328.9 112.7 328.5 113.2 328.2 113.7 327.8 114.2 327.5 114.7 327.1 115.2 326.7 115.7 326.3 116.2 325.9 116.7 325.6 117.2 325.2 117.7 324.8 118.2 324.4 118.7 324 119.2 323.7 119.7 323.3 120.2 322.9 120.7 322.5 121.2 322.1 121.7 321.7 122.2 321.3 122.7 320.9 123.2 320.5 123.7 320.1 124.2 319.7 124.7 319.3 125.2 318.9 125.7 318.5 126.2 318.1 126.7 317.8 127.2 317.4 127.7 317 128.2 316.6 128.7 316.2 129.2 315.8 129.7 315.4 130.2 315.1 130.7 314.7 131.2 314.3 131.7 313.9 132.2 313.6 132.7 313.2 133.2 312.9 133.7 312.6 134.2 312.3 134.7 312 135.2 311.6 135.7 311.3 136.2 310.9 136.7 310.6 137.2 310.2 137.7 309.7 138.2 309.3 138.7 308.8 139.2 308.3 139.7 307.8 140.2 307.4 140.7 307.1 141.2 306.7 141.7 306.3 142.2 306 142.7 305.7 143.2 305.4 143.7 305.1 144.2 304.8 144.7 304.5 145.2 304.2 145.7 304 146.2 303.7 146.7 303.5 147.2 303.3 147.7 303 148.2 302.8 148.7 302.6 149.2 302.4 149.7 302.3 150.2 302.1 150.7 302 151.2 301.8 151.7 301.7 152.2 301.6 152.7 301.5 153.2 301.4 153.7 301.3 154.2 301.3 154.7 301.2 155.2 301.2 155.7 300 156.2 300 156.7 300.1 157.2 300.1 157.7 300.2 158.2 300.3 158.7 300.4 159.2 300.5 159.7 300.6 160.2 300.8 160.7 300.9 161.2 301.1 161.7 301.3 162.2 301.6 162.7 301.8 163.2 302 163.7 302.3 164.2 302.6 164.7 302.9 165.2 303.2 165.7 303.5 166.2 303.8 166.7 304.2 167.2 304.6 167.7 304.9 168.2 305.3 168.7 305.7 169.2 306.1 169.7 306.5 170.2 306.9 170.7 307.3 171.2 307.8 171.7 308.2 172.2 308.7 172.7 309.1 173.2 309.6 173.7 310 174.2 310.5 174.7 311 175.2 311.5 175.7 311.9 176.2 312.4 176.7 312.9 177.2 313.4 177.7 313.9 178.2 314.4 178.7 314.8 179.2 315.3 179.7 315.8 180.2 316.3 180.7 316.8 181.2 317.3 181.7 317.7 182.2 318.2 182.7 318.7 183.2 319.1 183.7 319.6 184.2 320 184.7 320.5 185.2 320.9 185.7 321.4 186.2 321.8 186.7 322.2 187.2 322.7 187.7 323.1 188.2 323.5 188.7 323.9 189.2 324.3 189.7 324.7 190.2 325 190.7 325.4 191.2 325.8 191.7 326.1 192.2 326.5 192.7 326.8 193.2 327.2 193.7 327.5 194.2 327.8 194.7 328.1 195.2 328.4 195.7 328.7 196.2 329 196.7 329.3 197.2 329.5 197.7 329.8 198.2 330.1 198.7 330.3 199.2 330.5 199.7 330.8 200.2 331 200.7 331.2 201.2 331.4 201.7 331.6 202.2 331.8 202.7 332 203.2 332.2 203.7 332.4 204.2 332.5 204.7 332.7 205.2 332.9 205.7 333 206.2 333.2 206.7 333.3 207.2 333.4 207.7 333.6 208.2 333.7 208.7 333.8 209.2 333.9 209.7 334 210.2 334.1 210.7 334.2 211.2 334.3 211.7 334.4 212.2 334.5 212.7 334.6 213.2 334.7 213.7 334.7 214.2 334.8 214.7 334.9 215.2 334.9 215.7 335 216.2 335.1 216.7 335.1 217.2 335.2 217.7 335.2 218.2 335.3 218.7 335.3 219.2 335.3 219.7 335.4 220.2 335.4 220.7 335.5 221.2 335.5 221.7 335.5 222.2 335.6 222.7 335.6 223.2 335.6 223.7 335.6 224.2 335.7 224.7 335.7 225.2 335.7 225.7 335.7 226.2 335.7 226.7 335.8 227.2 335.8 227.7 335.8 228.2 335.8 228.7 335.8 229.2 335.8 229.7 335.8" fill="none" stroke="#2b9a45" stroke-width="1.0" stroke-linejoin="round" stroke-linecap="round" />
<path d="M32.2 338.3h0M33.2 334.2h0M34.2 336.9h0M35.2 336h0M36.2 336.1h0M37.2 336.3h0M38.2 334.7h0M39.2 336.3h0M40.2 335.7h0M41.2 339.5h0M42.2 336.7h0M43.2 336.2h0M44.2 336.2h0M45.2 335.9h0M46.2 335.5h0M47.2 336.1h0M48.2 336.9h0M49.2 336.3h0M50.2 337.3h0M51.2 336.3h0M52.2 336.5h0M53.2 337.9h0M54.2 336.9h0M55.2 336h0M56.2 336.3h0M57.2 336.9h0M58.2 338.2h0M59.2 336.2h0M60.2 336.2h0M61.2 337.3h0M62.2 335.6h0M63.2 336.2h0M64.2 337.2h0M65.2 336.9h0M66.2 336.5h0M67.2 337h0M68.2 333.8h0M69.2 337.3h0M70.2 335.5h0M71.2 334.9h0M72.2 336.6h0M73.2 337h0M74.2 335.9h0M75.2 335.4h0M76.2 336.4h0M77.2 336.3h0M78.2 337.6h0M79.2 337h0M80.2 336.5h0M81.2 337.3h0M82.2 336.1h0M83.2 335.4h0M84.2 336.8h0M85.2 336.7h0M86.2 335.9h0M87.2 335.4h0M88.2 336.1h0M89.2 334h0M90.2 336.1h0M91.2 335.9h0M92.2 334.4h0M93.2 335.3h0M94.2 334.6h0M95.2 335.3h0M96.2 333.8h0M97.2 334.1h0M98.2 334.6h0M99.2 334.5h0M100.2 332.5h0M101.2 333h0M102.2 333h0M103.2 332.1h0M104.2 332.7h0M105.2 330.8h0M106.2 331.1h0M107.2 329.8h0M108.2 330.5h0M109.2 329.1h0M110.2 328.3h0M111.2 327h0M112.2 328h0M113.2 326.8h0M114.2 326.1h0M115.2 325.5h0M116.2 324.4h0M117.2 323.1h0M118.2 322.3h0M119.2 321.5h0M120.2 321.8h0M121.2 319.6h0M122.2 319.2h0M123.2 318.6h0M124.2 318h0M125.2 317.4h0M126.2 315.8h0M127.2 314.8h0M128.2 315h0M129.2 314.8h0M130.2 313.9h0M131.2 312.9h0M132.2 312h0M133.2 311.7h0M134.2 310.8h0M135.2 310.7h0M136.2 309h0M137.2 308.5h0M138.2 307.3h0M139.2 306.4h0M140.2 305.2h0M141.2 305.4h0M142.2 304h0M143.2 303.2h0M144.2 300.6h0M145.2 300.8h0M146.2 300.1h0M147.2 300.1h0M148.2 298.3h0M149.2 299.6h0M150.2 299.1h0M151.2 297.5h0M152.2 297.4h0M153.2 297.1h0M154.2 297.3h0M155.2 297.3h0M156.2 297.8h0M157.2 296.4h0M158.2 296.7h0M159.2 296.2h0M160.2 296.8h0M161.2 296.2h0M162.2 296.3h0M163.2 294.8h0M164.2 295h0M165.2 294.2h0M166.2 294.7h0M167.2 293.6h0M168.2 292.2h0M169.2 291h0M170.2 290h0M171.2 287.7h0M172.2 285.7h0M173.2 284.4h0M174.2 283.2h0M175.2 279.6h0M176.2 277.2h0M177.2 274.5h0M178.2 272.1h0M179.2 270.5h0M180.2 268.2h0M181.2 265.2h0M182.2 262.6h0M183.2 259.8h0M184.2 257.5h0M185.2 254.9h0M186.2 253.8h0M187.2 252.6h0M188.2 251.1h0M189.2 250.4h0M190.2 249.8h0M191.2 249.9h0M192.2 250.6h0M193.2 250.5h0M194.2 251.4h0M195.2 253.1h0M196.2 254.6h0M197.2 257h0M198.2 257.2h0M199.2 260.9h0M200.2 262.8h0M201.2 265.8h0M202.2 269.3h0M203.2 272.9h0M204.2 276.5h0M205.2 280.1h0M206.2 285.1h0M207.2 288.5h0M208.2 292.7h0M209.2 297.3h0M210.2 300.7h0M211.2 306.2h0M212.2 310h0M213.2 314.6h0M214.2 316.9h0M215.2 319.8h0M216.2 322.7h0M217.2 324.8h0M218.2 325.8h0M219.2 327.7h0M220.2 328.7h0M221.2 330.6h0M222.2 330.2h0M223.2 331.7h0M224.2 331.5h0M225.2 331.8h0M226.2 332.4h0M227.2 332.5h0M228.2 333.5h0M229.2 334.3h0M230.2 334.1h0M231.2 334.6h0M232.2 335.5h0M233.2 334.8h0M234.2 335h0M235.2 334.8h0M236.2 333.8h0M237.2 335.9h0M238.2 333.8h0M239.2 336.1h0M240.2 335.5h0M241.2 336.6h0M242.2 335.6h0M243.2 335h0M244.2 336.1h0M245.2 335.3h0M246.2 335.7h0M247.2 336h0M248.2 335.9h0M249.2 335.9h0M250.2 335.4h0M251.2 336h0M252.2 334.3h0M253.2 336.1h0M254.2 335.2h0M255.2 337.3h0M256.2 337.5h0M257.2 334.6h0M258.2 336.6h0M259.2 336.5h0M260.2 335.8h0M261.2 337.4h0" fill="none" stroke="#aaaaaa" stroke-width="3.1" stroke-linecap="round"/>
<path d="M31.7 336.4H262" stroke="#666666" stroke-width="1.2"/>
<path d="M31.7 335.8 32.2 335.8 32.7 335.8 33.2 335.8 33.7 335.8 34.2 335.8 34.7 335.8 35.2 335.8 35.7 335.8 36.2 335.8 36.7 335.8 37.2 335.8 37.7 335.8 38.2 335.8 38.7 335.8 39.2 335.8 39.7 335.8 40.2 335.8 40.7 335.8 41.2 335.8 41.7 335.8 42.2 335.8 42.7 335.8 43.2 335.8 43.7 335.8 44.2 335.8 44.7 335.8 45.2 335.8 45.7 335.8 46.2 335.8 46.7 335.8 47.2 335.8 47.7 335.8 48.2 335.8 48.7 335.8 49.2 335.8 49.7 335.8 50.2 335.8 50.7 335.8 51.2 335.8 51.7 335.8 52.2 335.8 52.7 335.8 53.2 335.8 53.7 335.8 54.2 335.8 54.7 335.8 55.2 335.8 55.7 335.8 56.2 335.7 56.7 335.7 57.2 335.7 57.7 335.7 58.2 335.7 58.7 335.7 59.2 335.7 59.7 335.7 60.2 335.7 60.7 335.7 61.2 335.7 61.7 335.7 62.2 335.7 62.7 335.7 63.2 335.7 63.7 335.7 64.2 335.7 64.7 335.7 65.2 335.7 65.7 335.7 66.2 335.7 66.7 335.7 67.2 335.7 67.7 335.7 68.2 335.7 68.7 335.7 69.2 335.7 69.7 335.7 70.2 335.7 70.7 335.7 71.2 335.7 71.7 335.7 72.2 335.7 72.7 335.7 73.2 335.7 73.7 335.6 74.2 335.6 74.7 335.6 75.2 335.6 75.7 335.6 76.2 335.6 76.7 335.6 77.2 335.6 77.7 335.6 78.2 335.6 78.7 335.6 79.2 335.6 79.7 335.6 80.2 335.6 80.7 335.6 81.2 335.6 81.7 335.6 82.2 335.6 82.7 335.6 83.2 335.6 83.7 335.5 84.2 335.5 84.7 335.5 85.2 335.5 85.7 335.5 86.2 335.5 86.7 335.5 87.2 335.4 87.7 335.4 88.2 335.4 88.7 335.4 89.2 335.4 89.7 335.4 90.2 335.3 90.7 335.3 91.2 335.3 91.7 335.3 92.2 335.2 92.7 335.2 93.2 335.2 93.7 335.1 94.2 335.1 94.7 335 95.2 335 95.7 334.9 96.2 334.8 96.7 334.8 97.2 334.7 97.7 334.6 98.2 334.4 98.7 334.3 99.2 334.2 99.7 334.1 100.2 333.9 100.7 333.8 101.2 333.6 101.7 333.5 102.2 333.3 102.7 333.1 103.2 332.9 103.7 332.7 104.2 332.5 104.7 332.2 105.2 332 105.7 331.7 106.2 331.5 106.7 331.2 107.2 331 107.7 330.7 108.2 330.4 108.7 330.1 109.2 329.8 109.7 329.4 110.2 329.1 110.7 328.8 111.2 328.4 111.7 328.1 112.2 327.8 112.7 327.4 113.2 327.1 113.7 326.7 114.2 326.3 114.7 326 115.2 325.6 115.7 325.2 116.2 324.8 116.7 324.4 117.2 324 117.7 323.7 118.2 323.3 118.7 322.9 119.2 322.5 119.7 322.1 120.2 321.7 120.7 321.3 121.2 320.9 121.7 320.5 122.2 320.1 122.7 319.7 123.2 319.3 123.7 318.9 124.2 318.5 124.7 318.1 125.2 317.7 125.7 317.3 126.2 316.9 126.7 316.5 127.2 316.1 127.7 315.8 128.2 315.4 128.7 315 129.2 314.6 129.7 314.2 130.2 313.8 130.7 313.4 131.2 313 131.7 312.7 132.2 312.3 132.7 312 133.2 311.6 133.7 311.3 134.2 311 134.7 310.7 135.2 310.3 135.7 310 136.2 309.6 136.7 309.2 137.2 308.8 137.7 308.4 138.2 307.9 138.7 307.4 139.2 306.9 139.7 306.5 140.2 306 140.7 305.7 141.2 305.3 141.7 304.9 142.2 304.6 142.7 304.2 143.2 303.9 143.7 303.6 144.2 303.3 144.7 303 145.2 302.7 145.7 302.5 146.2 302.2 146.7 301.9 147.2 301.7 147.7 301.4 148.2 301.2 148.7 301 149.2 300.8 149.7 300.6 150.2 300.4 150.7 300.2 151.2 300.1 151.7 299.9 152.2 299.7 152.7 299.6 153.2 299.5 153.7 299.3 154.2 299.2 154.7 299.1 155.2 299 155.7 298.8 156.2 298.7 156.7 298.6 157.2 298.5 157.7 298.4 158.2 298.3 158.7 298.3 159.2 298.2 159.7 298.1 160.2 298 160.7 297.9 161.2 297.8 161.7 297.7 162.2 297.6 162.7 297.5 163.2 297.4 163.7 297.3 164.2 297.2 164.7 297.1 165.2 296.9 165.7 296.7 166.2 296.5 166.7 296.2 167.2 295.9 167.7 295.6 168.2 295.2 168.7 294.8 169.2 294.3 169.7 293.8 170.2 293.2 170.7 292.6 171.2 291.9 171.7 291.1 172.2 290.2 172.7 289.3 173.2 288.4 173.7 287.4 174.2 286.4 174.7 285.3 175.2 284.2 175.7 283.1 176.2 282 176.7 280.8 177.2 279.7 177.7 278.5 178.2 277.4 178.7 276.2 179.2 275 179.7 273.8 180.2 272.6 180.7 271.3 181.2 270.1 181.7 268.8 182.2 267.5 182.7 266.1 183.2 264.8 183.7 263.4 184.2 262 184.7 260.8 185.2 259.6 185.7 258.5 186.2 257.5 186.7 256.5 187.2 255.6 187.7 254.7 188.2 254 188.7 253.3 189.2 252.7 189.7 252.2 190.2 251.8 190.7 251.5 191.2 251.3 191.7 251.2 192.2 251.2 192.7 251.3 193.2 251.6 193.7 251.9 194.2 252.2 194.7 252.6 195.2 253.2 195.7 253.9 196.2 254.6 196.7 255.4 197.2 256.2 197.7 257.2 198.2 258.2 198.7 259.3 199.2 260.5 199.7 261.7 200.2 263 200.7 264.3 201.2 265.7 201.7 267.2 202.2 268.8 202.7 270.5 203.2 272.3 203.7 274.1 204.2 276 204.7 277.9 205.2 280 205.7 282.1 206.2 284.3 206.7 286.5 207.2 288.7 207.7 290.7 208.2 292.8 208.7 294.8 209.2 296.9 209.7 298.9 210.2 301 210.7 303 211.2 305.1 211.7 307.3 212.2 309.5 212.7 311.6 213.2 313.5 213.7 315.2 214.2 316.9 214.7 318.5 215.2 320.1 215.7 321.5 216.2 322.7 216.7 323.8 217.2 324.7 217.7 325.6 218.2 326.5 218.7 327.3 219.2 328 219.7 328.7 220.2 329.3 220.7 329.9 221.2 330.3 221.7 330.8 222.2 331.1 222.7 331.5 223.2 331.8 223.7 332.1 224.2 332.4 224.7 332.6 225.2 332.9 225.7 333.1 226.2 333.3 226.7 333.5 227.2 333.7 227.7 333.9 228.2 334 228.7 334.1 229.2 334.2 229.7 334.3 230.2 334.4 230.7 334.5 231.2 334.6 231.7 334.7 232.2 334.7 232.7 334.8 233.2 334.9 233.7 334.9 234.2 335 234.7 335 235.2 335.1 235.7 335.1 236.2 335.2 236.7 335.2 237.2 335.2 237.7 335.3 238.2 335.3 238.7 335.3 239.2 335.4 239.7 335.4 240.2 335.4 240.7 335.5 241.2 335.5 241.7 335.5 242.2 335.6 242.7 335.6 243.2 335.6 243.7 335.7 244.2 335.7 244.7 335.7 245.2 335.8 245.7 335.8 246.2 335.8 246.7 335.8 247.2 335.9 247.7 335.9 248.2 335.9 248.7 335.9 249.2 336 249.7 336 250.2 336 250.7 336 251.2 336.1 251.7 336.1 252.2 336.1 252.7 336.1 253.2 336.1 253.7 336.2 254.2 336.2 254.7 336.2 255.2 336.2 255.7 336.2 256.2 336.2 256.7 336.2 257.2 336.2 257.7 336.3 258.2 336.3 258.7 336.3 259.2 336.3 259.7 336.3 260.2 336.3 260.7 336.3 261.2 336.3 261.7 336.3" fill="none" stroke="#c0104c" stroke-width="1.7" stroke-linejoin="round" stroke-linecap="round" />
<path d="M36.2 441.4 36.7 441.4 37.2 441.4 37.7 441.4 38.2 441.4 38.7 441.4 39.2 441.4 39.7 441.4 40.2 441.4 40.7 441.4 41.2 441.4 41.7 441.4 42.2 441.4 42.7 441.4 43.2 441.4 43.7 441.4 44.2 441.4 44.7 441.4 45.2 441.4 45.7 441.4 46.2 441.4 46.7 441.4 47.2 441.4 47.7 441.4 48.2 441.4 48.7 441.4 49.2 441.4 49.7 441.4 50.2 441.4 50.7 441.4 51.2 441.4 51.7 441.4 52.2 441.4 52.7 441.4 53.2 441.4 53.7 441.4 54.2 441.4 54.7 441.4 55.2 441.4 55.7 441.4 56.2 441.4 56.7 441.4 57.2 441.4 57.7 441.4 58.2 441.4 58.7 441.4 59.2 441.4 59.7 441.4 60.2 441.4 60.7 441.4 61.2 441.4 61.7 441.4 62.2 441.4 62.7 441.4 63.2 441.4 63.7 441.4 64.2 441.4 64.7 441.4 65.2 441.4 65.7 441.4 66.2 441.4 66.7 441.4 67.2 441.4 67.7 441.4 68.2 441.4 68.7 441.4 69.2 441.4 69.7 441.4 70.2 441.4 70.7 441.4 71.2 441.4 71.7 441.4 72.2 441.3 72.7 441.3 73.2 441.3 73.7 441.3 74.2 441.3 74.7 441.3 75.2 441.3 75.7 441.3 76.2 441.3 76.7 441.3 77.2 441.3 77.7 441.3 78.2 441.3 78.7 441.3 79.2 441.3 79.7 441.3 80.2 441.3 80.7 441.3 81.2 441.3 81.7 441.3 82.2 441.3 82.7 441.3 83.2 441.3 83.7 441.3 84.2 441.3 84.7 441.3 85.2 441.3 85.7 441.3 86.2 441.3 86.7 441.3 87.2 441.3 87.7 441.3 88.2 441.3 88.7 441.3 89.2 441.3 89.7 441.3 90.2 441.3 90.7 441.3 91.2 441.3 91.7 441.2 92.2 441.2 92.7 441.2 93.2 441.2 93.7 441.2 94.2 441.2 94.7 441.2 95.2 441.2 95.7 441.2 96.2 441.2 96.7 441.2 97.2 441.2 97.7 441.2 98.2 441.2 98.7 441.2 99.2 441.2 99.7 441.2 100.2 441.2 100.7 441.2 101.2 441.2 101.7 441.2 102.2 441.2 102.7 441.2 103.2 441.2 103.7 441.2 104.2 441.1 104.7 441.1 105.2 441.1 105.7 441.1 106.2 441.1 106.7 441.1 107.2 441.1 107.7 441.1 108.2 441.1 108.7 441.1 109.2 441.1 109.7 441.1 110.2 441.1 110.7 441.1 111.2 441.1 111.7 441.1 112.2 441.1 112.7 441 113.2 441 113.7 441 114.2 441 114.7 441 115.2 441 115.7 441 116.2 441 116.7 441 117.2 441 117.7 441 118.2 441 118.7 441 119.2 441 119.7 440.9 120.2 440.9 120.7 440.9 121.2 440.9 121.7 440.9 122.2 440.9 122.7 440.9 123.2 440.9 123.7 440.9 124.2 440.9 124.7 440.9 125.2 440.8 125.7 440.8 126.2 440.8 126.7 440.8 127.2 440.8 127.7 440.8 128.2 440.8 128.7 440.8 129.2 440.8 129.7 440.7 130.2 440.7 130.7 440.7 131.2 440.7 131.7 440.7 132.2 440.7 132.7 440.7 133.2 440.6 133.7 440.6 134.2 440.6 134.7 440.6 135.2 440.6 135.7 440.6 136.2 440.5 136.7 440.5 137.2 440.5 137.7 440.5 138.2 440.5 138.7 440.4 139.2 440.4 139.7 440.4 140.2 440.4 140.7 440.4 141.2 440.3 141.7 440.3 142.2 440.3 142.7 440.2 143.2 440.2 143.7 440.2 144.2 440.2 144.7 440.1 145.2 440.1 145.7 440 146.2 440 146.7 440 147.2 439.9 147.7 439.9 148.2 439.8 148.7 439.7 149.2 439.7 149.7 439.6 150.2 439.5 150.7 439.5 151.2 439.4 151.7 439.3 152.2 439.2 152.7 439.1 153.2 439 153.7 438.9 154.2 438.8 154.7 438.6 155.2 438.5 155.7 438.3 156.2 438.2 156.7 438 157.2 437.8 157.7 437.6 158.2 437.4 158.7 437.1 159.2 436.9 159.7 436.6 160.2 436.3 160.7 436 161.2 435.6 161.7 435.3 162.2 434.9 162.7 434.5 163.2 434 163.7 433.6 164.2 433.1 164.7 432.5 165.2 432 165.7 431.4 166.2 430.7 166.7 430.1 167.2 429.4 167.7 428.6 168.2 427.8 168.7 427 169.2 426.2 169.7 425.3 170.2 424.3 170.7 423.4 171.2 422.3 171.7 421.3 172.2 420.2 172.7 419 173.2 417.8 173.7 416.6 174.2 415.3 174.7 414 175.2 412.7 175.7 411.3 176.2 409.9 176.7 408.4 177.2 406.9 177.7 405.4 178.2 403.9 178.7 402.4 179.2 400.8 179.7 399.2 180.2 397.6 180.7 396 181.2 394.4 181.7 392.7 182.2 391.1 182.7 389.5 183.2 387.9 183.7 386.3 184.2 384.8 184.7 383.3 185.2 381.8 185.7 380.3 186.2 378.9 186.7 377.5 187.2 376.2 187.7 375 188.2 373.8 188.7 372.7 189.2 371.7 189.7 370.8 190.2 369.9 190.7 369.2 191.2 368.5 191.7 368 192.2 367.5 192.7 367.2 193.2 366.9 193.7 366.8 194.2 366.8 194.7 366.9 195.2 367.2 195.7 367.5 196.2 368 196.7 368.6 197.2 369.3 197.7 370.1 198.2 371 198.7 372 199.2 373.1 199.7 374.3 200.2 375.6 200.7 376.9 201.2 378.3 201.7 379.8 202.2 381.3 202.7 382.9 203.2 384.5 203.7 386.1 204.2 387.8 204.7 389.5 205.2 391.2 205.7 392.9 206.2 394.6 206.7 396.3 207.2 398 207.7 399.7 208.2 401.3 208.7 403 209.2 404.6 209.7 406.2 210.2 407.8 210.7 409.3 211.2 410.8 211.7 412.3 212.2 413.7 212.7 415.1 213.2 416.5 213.7 417.8 214.2 419 214.7 420.2 215.2 421.4 215.7 422.5 216.2 423.6 216.7 424.6 217.2 425.6 217.7 426.5 218.2 427.4 218.7 428.2 219.2 429 219.7 429.8 220.2 430.5 220.7 431.2 221.2 431.8 221.7 432.4 222.2 433 222.7 433.5 223.2 434 223.7 434.5 224.2 434.9 224.7 435.3 225.2 435.7 225.7 436.1 226.2 436.4 226.7 436.7 227.2 437 227.7 437.2 228.2 437.5 228.7 437.7 229.2 437.9 229.7 438.1 230.2 438.3 230.7 438.5 231.2 438.6 231.7 438.8 232.2 438.9 232.7 439 233.2 439.1 233.7 439.2 234.2 439.3 234.7 439.4 235.2 439.5 235.7 439.6 236.2 439.6 236.7 439.7 237.2 439.8 237.7 439.8 238.2 439.9 238.7 439.9 239.2 440 239.7 440 240.2 440.1 240.7 440.1 241.2 440.1 241.7 440.2 242.2 440.2 242.7 440.2 243.2 440.3 243.7 440.3 244.2 440.3 244.7 440.4 245.2 440.4 245.7 440.4 246.2 440.4 246.7 440.5 247.2 440.5 247.7 440.5 248.2 440.5 248.7 440.5 249.2 440.6 249.7 440.6 250.2 440.6 250.7 440.6 251.2 440.6 251.7 440.6 252.2 440.7 252.7 440.7 253.2 440.7 253.7 440.7 254.2 440.7 254.7 440.7 255.2 440.7 255.7 440.8 256.2 440.8 256.7 440.8 257.2 440.8 257.7 440.8 258.2 440.8 258.7 440.8 259.2 440.8 259.7 440.9 260.2 440.9 260.7 440.9 261.2 440.9 261.7 440.9L261.7 441.6L36.2 441.6Z" fill="url(#gl)"/>
<path d="M36.2 441.4 36.7 441.4 37.2 441.4 37.7 441.4 38.2 441.4 38.7 441.4 39.2 441.4 39.7 441.4 40.2 441.4 40.7 441.4 41.2 441.4 41.7 441.4 42.2 441.4 42.7 441.4 43.2 441.4 43.7 441.4 44.2 441.4 44.7 441.4 45.2 441.4 45.7 441.4 46.2 441.4 46.7 441.4 47.2 441.4 47.7 441.4 48.2 441.4 48.7 441.4 49.2 441.4 49.7 441.4 50.2 441.4 50.7 441.4 51.2 441.4 51.7 441.4 52.2 441.4 52.7 441.4 53.2 441.4 53.7 441.4 54.2 441.4 54.7 441.4 55.2 441.4 55.7 441.4 56.2 441.4 56.7 441.4 57.2 441.4 57.7 441.4 58.2 441.4 58.7 441.4 59.2 441.4 59.7 441.4 60.2 441.4 60.7 441.4 61.2 441.4 61.7 441.4 62.2 441.4 62.7 441.4 63.2 441.4 63.7 441.4 64.2 441.4 64.7 441.4 65.2 441.4 65.7 441.4 66.2 441.4 66.7 441.4 67.2 441.4 67.7 441.4 68.2 441.4 68.7 441.4 69.2 441.4 69.7 441.4 70.2 441.4 70.7 441.4 71.2 441.4 71.7 441.4 72.2 441.3 72.7 441.3 73.2 441.3 73.7 441.3 74.2 441.3 74.7 441.3 75.2 441.3 75.7 441.3 76.2 441.3 76.7 441.3 77.2 441.3 77.7 441.3 78.2 441.3 78.7 441.3 79.2 441.3 79.7 441.3 80.2 441.3 80.7 441.3 81.2 441.3 81.7 441.3 82.2 441.3 82.7 441.3 83.2 441.3 83.7 441.3 84.2 441.3 84.7 441.3 85.2 441.3 85.7 441.3 86.2 441.3 86.7 441.3 87.2 441.3 87.7 441.3 88.2 441.3 88.7 441.3 89.2 441.3 89.7 441.3 90.2 441.3 90.7 441.3 91.2 441.3 91.7 441.2 92.2 441.2 92.7 441.2 93.2 441.2 93.7 441.2 94.2 441.2 94.7 441.2 95.2 441.2 95.7 441.2 96.2 441.2 96.7 441.2 97.2 441.2 97.7 441.2 98.2 441.2 98.7 441.2 99.2 441.2 99.7 441.2 100.2 441.2 100.7 441.2 101.2 441.2 101.7 441.2 102.2 441.2 102.7 441.2 103.2 441.2 103.7 441.2 104.2 441.1 104.7 441.1 105.2 441.1 105.7 441.1 106.2 441.1 106.7 441.1 107.2 441.1 107.7 441.1 108.2 441.1 108.7 441.1 109.2 441.1 109.7 441.1 110.2 441.1 110.7 441.1 111.2 441.1 111.7 441.1 112.2 441.1 112.7 441 113.2 441 113.7 441 114.2 441 114.7 441 115.2 441 115.7 441 116.2 441 116.7 441 117.2 441 117.7 441 118.2 441 118.7 441 119.2 441 119.7 440.9 120.2 440.9 120.7 440.9 121.2 440.9 121.7 440.9 122.2 440.9 122.7 440.9 123.2 440.9 123.7 440.9 124.2 440.9 124.7 440.9 125.2 440.8 125.7 440.8 126.2 440.8 126.7 440.8 127.2 440.8 127.7 440.8 128.2 440.8 128.7 440.8 129.2 440.8 129.7 440.7 130.2 440.7 130.7 440.7 131.2 440.7 131.7 440.7 132.2 440.7 132.7 440.7 133.2 440.6 133.7 440.6 134.2 440.6 134.7 440.6 135.2 440.6 135.7 440.6 136.2 440.5 136.7 440.5 137.2 440.5 137.7 440.5 138.2 440.5 138.7 440.4 139.2 440.4 139.7 440.4 140.2 440.4 140.7 440.4 141.2 440.3 141.7 440.3 142.2 440.3 142.7 440.2 143.2 440.2 143.7 440.2 144.2 440.2 144.7 440.1 145.2 440.1 145.7 440 146.2 440 146.7 440 147.2 439.9 147.7 439.9 148.2 439.8 148.7 439.7 149.2 439.7 149.7 439.6 150.2 439.5 150.7 439.5 151.2 439.4 151.7 439.3 152.2 439.2 152.7 439.1 153.2 439 153.7 438.9 154.2 438.8 154.7 438.6 155.2 438.5 155.7 438.3 156.2 438.2 156.7 438 157.2 437.8 157.7 437.6 158.2 437.4 158.7 437.1 159.2 436.9 159.7 436.6 160.2 436.3 160.7 436 161.2 435.6 161.7 435.3 162.2 434.9 162.7 434.5 163.2 434 163.7 433.6 164.2 433.1 164.7 432.5 165.2 432 165.7 431.4 166.2 430.7 166.7 430.1 167.2 429.4 167.7 428.6 168.2 427.8 168.7 427 169.2 426.2 169.7 425.3 170.2 424.3 170.7 423.4 171.2 422.3 171.7 421.3 172.2 420.2 172.7 419 173.2 417.8 173.7 416.6 174.2 415.3 174.7 414 175.2 412.7 175.7 411.3 176.2 409.9 176.7 408.4 177.2 406.9 177.7 405.4 178.2 403.9 178.7 402.4 179.2 400.8 179.7 399.2 180.2 397.6 180.7 396 181.2 394.4 181.7 392.7 182.2 391.1 182.7 389.5 183.2 387.9 183.7 386.3 184.2 384.8 184.7 383.3 185.2 381.8 185.7 380.3 186.2 378.9 186.7 377.5 187.2 376.2 187.7 375 188.2 373.8 188.7 372.7 189.2 371.7 189.7 370.8 190.2 369.9 190.7 369.2 191.2 368.5 191.7 368 192.2 367.5 192.7 367.2 193.2 366.9 193.7 366.8 194.2 366.8 194.7 366.9 195.2 367.2 195.7 367.5 196.2 368 196.7 368.6 197.2 369.3 197.7 370.1 198.2 371 198.7 372 199.2 373.1 199.7 374.3 200.2 375.6 200.7 376.9 201.2 378.3 201.7 379.8 202.2 381.3 202.7 382.9 203.2 384.5 203.7 386.1 204.2 387.8 204.7 389.5 205.2 391.2 205.7 392.9 206.2 394.6 206.7 396.3 207.2 398 207.7 399.7 208.2 401.3 208.7 403 209.2 404.6 209.7 406.2 210.2 407.8 210.7 409.3 211.2 410.8 211.7 412.3 212.2 413.7 212.7 415.1 213.2 416.5 213.7 417.8 214.2 419 214.7 420.2 215.2 421.4 215.7 422.5 216.2 423.6 216.7 424.6 217.2 425.6 217.7 426.5 218.2 427.4 218.7 428.2 219.2 429 219.7 429.8 220.2 430.5 220.7 431.2 221.2 431.8 221.7 432.4 222.2 433 222.7 433.5 223.2 434 223.7 434.5 224.2 434.9 224.7 435.3 225.2 435.7 225.7 436.1 226.2 436.4 226.7 436.7 227.2 437 227.7 437.2 228.2 437.5 228.7 437.7 229.2 437.9 229.7 438.1 230.2 438.3 230.7 438.5 231.2 438.6 231.7 438.8 232.2 438.9 232.7 439 233.2 439.1 233.7 439.2 234.2 439.3 234.7 439.4 235.2 439.5 235.7 439.6 236.2 439.6 236.7 439.7 237.2 439.8 237.7 439.8 238.2 439.9 238.7 439.9 239.2 440 239.7 440 240.2 440.1 240.7 440.1 241.2 440.1 241.7 440.2 242.2 440.2 242.7 440.2 243.2 440.3 243.7 440.3 244.2 440.3 244.7 440.4 245.2 440.4 245.7 440.4 246.2 440.4 246.7 440.5 247.2 440.5 247.7 440.5 248.2 440.5 248.7 440.5 249.2 440.6 249.7 440.6 250.2 440.6 250.7 440.6 251.2 440.6 251.7 440.6 252.2 440.7 252.7 440.7 253.2 440.7 253.7 440.7 254.2 440.7 254.7 440.7 255.2 440.7 255.7 440.8 256.2 440.8 256.7 440.8 257.2 440.8 257.7 440.8 258.2 440.8 258.7 440.8 259.2 440.8 259.7 440.9 260.2 440.9 260.7 440.9 261.2 440.9 261.7 440.9" fill="none" stroke="#5e3a94" stroke-width="1.1" stroke-linejoin="round" stroke-linecap="round" />
<path d="M98.2 441.4 98.7 441.4 99.2 441.4 99.7 441.4 100.2 441.3 100.7 441.3 101.2 441.3 101.7 441.2 102.2 441.2 102.7 441.2 103.2 441.1 103.7 441 104.2 441 104.7 440.9 105.2 440.9 105.7 440.8 106.2 440.7 106.7 440.6 107.2 440.5 107.7 440.4 108.2 440.4 108.7 440.3 109.2 440.2 109.7 440 110.2 439.9 110.7 439.8 111.2 439.6 111.7 439.5 112.2 439.3 112.7 439.2 113.2 439 113.7 438.8 114.2 438.6 114.7 438.4 115.2 438.2 115.7 438 116.2 437.8 116.7 437.6 117.2 437.3 117.7 437.1 118.2 436.8 118.7 436.5 119.2 436.1 119.7 435.8 120.2 435.5 120.7 435.1 121.2 434.7 121.7 434.3 122.2 433.9 122.7 433.4 123.2 433 123.7 432.5 124.2 432 124.7 431.5 125.2 431.1 125.7 430.6 126.2 430.1 126.7 429.7 127.2 429.2 127.7 428.8 128.2 428.3 128.7 427.8 129.2 427.3 129.7 426.8 130.2 426.3 130.7 425.8 131.2 425.2 131.7 424.6 132.2 424 132.7 423.4 133.2 422.8 133.7 422.1 134.2 421.5 134.7 420.8 135.2 420.1 135.7 419.5 136.2 418.8 136.7 418.1 137.2 417.3 137.7 416.6 138.2 415.9 138.7 415.1 139.2 414.4 139.7 413.6 140.2 412.9 140.7 412.1 141.2 411.4 141.7 410.6 142.2 409.8 142.7 409 143.2 408.2 143.7 407.4 144.2 406.6 144.7 405.9 145.2 405.1 145.7 404.4 146.2 403.7 146.7 403 147.2 402.3 147.7 401.7 148.2 401.1 148.7 400.5 149.2 399.9 149.7 399.4 150.2 399 150.7 398.7 151.2 398.3 151.7 398 152.2 397.8 152.7 397.5 153.2 397.3 153.7 397.1 154.2 397 154.7 396.9 155.2 396.9 155.7 396.9 156.2 395.1 156.7 395.2 157.2 395.3 157.7 395.4 158.2 395.6 158.7 395.9 159.2 396.2 159.7 396.6 160.2 397 160.7 397.5 161.2 398 161.7 398.6 162.2 399.2 162.7 399.8 163.2 400.5 163.7 401.2 164.2 402 164.7 402.8 165.2 403.6 165.7 404.4 166.2 405.2 166.7 406.1 167.2 407 167.7 407.9 168.2 408.8 168.7 409.7 169.2 410.6 169.7 411.5 170.2 412.5 170.7 413.4 171.2 414.3 171.7 415.2 172.2 416.1 172.7 417.1 173.2 417.9 173.7 418.8 174.2 419.7 174.7 420.6 175.2 421.4 175.7 422.2 176.2 423.1 176.7 423.8 177.2 424.6 177.7 425.4 178.2 426.1 178.7 426.8 179.2 427.5 179.7 428.2 180.2 428.8 180.7 429.5 181.2 430.1 181.7 430.7 182.2 431.2 182.7 431.8 183.2 432.3 183.7 432.8 184.2 433.2 184.7 433.7 185.2 434.1 185.7 434.5 186.2 434.9 186.7 435.3 187.2 435.7 187.7 436 188.2 436.3 188.7 436.6 189.2 436.9 189.7 437.2 190.2 437.4 190.7 437.7 191.2 437.9 191.7 438.1 192.2 438.3 192.7 438.5 193.2 438.7 193.7 438.8 194.2 439 194.7 439.1 195.2 439.3 195.7 439.4 196.2 439.5 196.7 439.6 197.2 439.7 197.7 439.8 198.2 439.9 198.7 440 199.2 440.1 199.7 440.1 200.2 440.2 200.7 440.3 201.2 440.3 201.7 440.4 202.2 440.4 202.7 440.5 203.2 440.5 203.7 440.6 204.2 440.6 204.7 440.6 205.2 440.7 205.7 440.7 206.2 440.7 206.7 440.8 207.2 440.8 207.7 440.8 208.2 440.8 208.7 440.8 209.2 440.9 209.7 440.9 210.2 440.9 210.7 440.9 211.2 440.9 211.7 440.9 212.2 441 212.7 441 213.2 441 213.7 441 214.2 441 214.7 441 215.2 441 215.7 441 216.2 441.1 216.7 441.1 217.2 441.1 217.7 441.1 218.2 441.1 218.7 441.1 219.2 441.1 219.7 441.1 220.2 441.1 220.7 441.1 221.2 441.1 221.7 441.1 222.2 441.1 222.7 441.2 223.2 441.2 223.7 441.2 224.2 441.2 224.7 441.2 225.2 441.2 225.7 441.2 226.2 441.2 226.7 441.2 227.2 441.2 227.7 441.2 228.2 441.2 228.7 441.2 229.2 441.2 229.7 441.2 230.2 441.2 230.7 441.2 231.2 441.2 231.7 441.2 232.2 441.3 232.7 441.3 233.2 441.3 233.7 441.3 234.2 441.3 234.7 441.3 235.2 441.3 235.7 441.3 236.2 441.3 236.7 441.3 237.2 441.3 237.7 441.3 238.2 441.3 238.7 441.3 239.2 441.3 239.7 441.3 240.2 441.3 240.7 441.3 241.2 441.3 241.7 441.3 242.2 441.3 242.7 441.3 243.2 441.3 243.7 441.3 244.2 441.3 244.7 441.3 245.2 441.3 245.7 441.3 246.2 441.3 246.7 441.4 247.2 441.4 247.7 441.4 248.2 441.4 248.7 441.4 249.2 441.4 249.7 441.4 250.2 441.4 250.7 441.4 251.2 441.4 251.7 441.4 252.2 441.4 252.7 441.4 253.2 441.4 253.7 441.4 254.2 441.4 254.7 441.4 255.2 441.4 255.7 441.4 256.2 441.4 256.7 441.4 257.2 441.4 257.7 441.4 258.2 441.4 258.7 441.4 259.2 441.4 259.7 441.4 260.2 441.4 260.7 441.4 261.2 441.4 261.7 441.4L261.7 441.6L98.2 441.6Z" fill="url(#gv)"/>
<path d="M98.2 441.4 98.7 441.4 99.2 441.4 99.7 441.4 100.2 441.3 100.7 441.3 101.2 441.3 101.7 441.2 102.2 441.2 102.7 441.2 103.2 441.1 103.7 441 104.2 441 104.7 440.9 105.2 440.9 105.7 440.8 106.2 440.7 106.7 440.6 107.2 440.5 107.7 440.4 108.2 440.4 108.7 440.3 109.2 440.2 109.7 440 110.2 439.9 110.7 439.8 111.2 439.6 111.7 439.5 112.2 439.3 112.7 439.2 113.2 439 113.7 438.8 114.2 438.6 114.7 438.4 115.2 438.2 115.7 438 116.2 437.8 116.7 437.6 117.2 437.3 117.7 437.1 118.2 436.8 118.7 436.5 119.2 436.1 119.7 435.8 120.2 435.5 120.7 435.1 121.2 434.7 121.7 434.3 122.2 433.9 122.7 433.4 123.2 433 123.7 432.5 124.2 432 124.7 431.5 125.2 431.1 125.7 430.6 126.2 430.1 126.7 429.7 127.2 429.2 127.7 428.8 128.2 428.3 128.7 427.8 129.2 427.3 129.7 426.8 130.2 426.3 130.7 425.8 131.2 425.2 131.7 424.6 132.2 424 132.7 423.4 133.2 422.8 133.7 422.1 134.2 421.5 134.7 420.8 135.2 420.1 135.7 419.5 136.2 418.8 136.7 418.1 137.2 417.3 137.7 416.6 138.2 415.9 138.7 415.1 139.2 414.4 139.7 413.6 140.2 412.9 140.7 412.1 141.2 411.4 141.7 410.6 142.2 409.8 142.7 409 143.2 408.2 143.7 407.4 144.2 406.6 144.7 405.9 145.2 405.1 145.7 404.4 146.2 403.7 146.7 403 147.2 402.3 147.7 401.7 148.2 401.1 148.7 400.5 149.2 399.9 149.7 399.4 150.2 399 150.7 398.7 151.2 398.3 151.7 398 152.2 397.8 152.7 397.5 153.2 397.3 153.7 397.1 154.2 397 154.7 396.9 155.2 396.9 155.7 396.9 156.2 395.1 156.7 395.2 157.2 395.3 157.7 395.4 158.2 395.6 158.7 395.9 159.2 396.2 159.7 396.6 160.2 397 160.7 397.5 161.2 398 161.7 398.6 162.2 399.2 162.7 399.8 163.2 400.5 163.7 401.2 164.2 402 164.7 402.8 165.2 403.6 165.7 404.4 166.2 405.2 166.7 406.1 167.2 407 167.7 407.9 168.2 408.8 168.7 409.7 169.2 410.6 169.7 411.5 170.2 412.5 170.7 413.4 171.2 414.3 171.7 415.2 172.2 416.1 172.7 417.1 173.2 417.9 173.7 418.8 174.2 419.7 174.7 420.6 175.2 421.4 175.7 422.2 176.2 423.1 176.7 423.8 177.2 424.6 177.7 425.4 178.2 426.1 178.7 426.8 179.2 427.5 179.7 428.2 180.2 428.8 180.7 429.5 181.2 430.1 181.7 430.7 182.2 431.2 182.7 431.8 183.2 432.3 183.7 432.8 184.2 433.2 184.7 433.7 185.2 434.1 185.7 434.5 186.2 434.9 186.7 435.3 187.2 435.7 187.7 436 188.2 436.3 188.7 436.6 189.2 436.9 189.7 437.2 190.2 437.4 190.7 437.7 191.2 437.9 191.7 438.1 192.2 438.3 192.7 438.5 193.2 438.7 193.7 438.8 194.2 439 194.7 439.1 195.2 439.3 195.7 439.4 196.2 439.5 196.7 439.6 197.2 439.7 197.7 439.8 198.2 439.9 198.7 440 199.2 440.1 199.7 440.1 200.2 440.2 200.7 440.3 201.2 440.3 201.7 440.4 202.2 440.4 202.7 440.5 203.2 440.5 203.7 440.6 204.2 440.6 204.7 440.6 205.2 440.7 205.7 440.7 206.2 440.7 206.7 440.8 207.2 440.8 207.7 440.8 208.2 440.8 208.7 440.8 209.2 440.9 209.7 440.9 210.2 440.9 210.7 440.9 211.2 440.9 211.7 440.9 212.2 441 212.7 441 213.2 441 213.7 441 214.2 441 214.7 441 215.2 441 215.7 441 216.2 441.1 216.7 441.1 217.2 441.1 217.7 441.1 218.2 441.1 218.7 441.1 219.2 441.1 219.7 441.1 220.2 441.1 220.7 441.1 221.2 441.1 221.7 441.1 222.2 441.1 222.7 441.2 223.2 441.2 223.7 441.2 224.2 441.2 224.7 441.2 225.2 441.2 225.7 441.2 226.2 441.2 226.7 441.2 227.2 441.2 227.7 441.2 228.2 441.2 228.7 441.2 229.2 441.2 229.7 441.2 230.2 441.2 230.7 441.2 231.2 441.2 231.7 441.2 232.2 441.3 232.7 441.3 233.2 441.3 233.7 441.3 234.2 441.3 234.7 441.3 235.2 441.3 235.7 441.3 236.2 441.3 236.7 441.3 237.2 441.3 237.7 441.3 238.2 441.3 238.7 441.3 239.2 441.3 239.7 441.3 240.2 441.3 240.7 441.3 241.2 441.3 241.7 441.3 242.2 441.3 242.7 441.3 243.2 441.3 243.7 441.3 244.2 441.3 244.7 441.3 245.2 441.3 245.7 441.3 246.2 441.3 246.7 441.4 247.2 441.4 247.7 441.4 248.2 441.4 248.7 441.4 249.2 441.4 249.7 441.4 250.2 441.4 250.7 441.4 251.2 441.4 251.7 441.4 252.2 441.4 252.7 441.4 253.2 441.4 253.7 441.4 254.2 441.4 254.7 441.4 255.2 441.4 255.7 441.4 256.2 441.4 256.7 441.4 257.2 441.4 257.7 441.4 258.2 441.4 258.7 441.4 259.2 441.4 259.7 441.4 260.2 441.4 260.7 441.4 261.2 441.4 261.7 441.4" fill="none" stroke="#2b9a45" stroke-width="1.0" stroke-linejoin="round" stroke-linecap="round" />
<path d="M32.2 440.6h0M33.2 440.1h0M34.2 441.1h0M35.2 441.7h0M36.2 442.3h0M37.2 441.4h0M38.2 440.8h0M39.2 440.6h0M40.2 442h0M41.2 442.8h0M42.2 441.5h0M43.2 440.2h0M44.2 440.4h0M45.2 442.7h0M46.2 441.5h0M47.2 439.7h0M48.2 441.2h0M49.2 440.2h0M50.2 440.7h0M51.2 440.8h0M52.2 440.6h0M53.2 441.8h0M54.2 441.2h0M55.2 440.7h0M56.2 441.6h0M57.2 442h0M58.2 439.8h0M59.2 441h0M60.2 440.4h0M61.2 441.1h0M62.2 440.1h0M63.2 441.3h0M64.2 441.2h0M65.2 441h0M66.2 440.3h0M67.2 440.9h0M68.2 440.2h0M69.2 440h0M70.2 441.4h0M71.2 440.2h0M72.2 442.3h0M73.2 441.9h0M74.2 439.4h0M75.2 441.4h0M76.2 440.2h0M77.2 441.2h0M78.2 441.2h0M79.2 439.4h0M80.2 441h0M81.2 440.9h0M82.2 442h0M83.2 440.1h0M84.2 441.8h0M85.2 440.1h0M86.2 440.8h0M87.2 440.3h0M88.2 442h0M89.2 441.2h0M90.2 442.4h0M91.2 441.1h0M92.2 441.1h0M93.2 440.9h0M94.2 440h0M95.2 440.2h0M96.2 440.9h0M97.2 440h0M98.2 440.2h0M99.2 440.1h0M100.2 440.3h0M101.2 439.7h0M102.2 439.6h0M103.2 439.7h0M104.2 439.4h0M105.2 438.7h0M106.2 439.4h0M107.2 438h0M108.2 437.8h0M109.2 437.5h0M110.2 438.3h0M111.2 437.3h0M112.2 436.6h0M113.2 436.2h0M114.2 436.6h0M115.2 435.4h0M116.2 434.9h0M117.2 435.3h0M118.2 433.8h0M119.2 433.6h0M120.2 433.1h0M121.2 432.1h0M122.2 431.5h0M123.2 431.2h0M124.2 429.3h0M125.2 428h0M126.2 426.7h0M127.2 426.6h0M128.2 425.6h0M129.2 424.9h0M130.2 423.5h0M131.2 422.4h0M132.2 421h0M133.2 419.9h0M134.2 418.9h0M135.2 417.2h0M136.2 416.1h0M137.2 415.5h0M138.2 413.3h0M139.2 410.8h0M140.2 411h0M141.2 408.8h0M142.2 406.6h0M143.2 406h0M144.2 403.9h0M145.2 402h0M146.2 400.6h0M147.2 399.1h0M148.2 398.3h0M149.2 397.6h0M150.2 395.9h0M151.2 395.4h0M152.2 395.3h0M153.2 392.5h0M154.2 392.2h0M155.2 391h0M156.2 389.9h0M157.2 389.8h0M158.2 390.2h0M159.2 390.5h0M160.2 390.1h0M161.2 390.6h0M162.2 391.1h0M163.2 391h0M164.2 391.5h0M165.2 391.4h0M166.2 391.4h0M167.2 391.9h0M168.2 391.1h0M169.2 391.1h0M170.2 391.4h0M171.2 390.6h0M172.2 390.6h0M173.2 390.3h0M174.2 389.1h0M175.2 388h0M176.2 385.7h0M177.2 383.9h0M178.2 384.6h0M179.2 383.1h0M180.2 380.8h0M181.2 380.8h0M182.2 378.7h0M183.2 375.8h0M184.2 374.3h0M185.2 372.2h0M186.2 371.5h0M187.2 368.6h0M188.2 367.3h0M189.2 365.9h0M190.2 364.5h0M191.2 363h0M192.2 362.8h0M193.2 362.6h0M194.2 362h0M195.2 361.3h0M196.2 361.5h0M197.2 362.5h0M198.2 362.9h0M199.2 364.3h0M200.2 365.3h0M201.2 369h0M202.2 370.7h0M203.2 372.5h0M204.2 376.7h0M205.2 380.4h0M206.2 382.1h0M207.2 386.6h0M208.2 390.3h0M209.2 394.5h0M210.2 397.7h0M211.2 400.8h0M212.2 403.6h0M213.2 406.9h0M214.2 409.2h0M215.2 410.1h0M216.2 412.6h0M217.2 418.3h0M218.2 420.3h0M219.2 424h0M220.2 427.6h0M221.2 430.6h0M222.2 433.1h0M223.2 434.3h0M224.2 434.9h0M225.2 436.8h0M226.2 437.5h0M227.2 439h0M228.2 438.5h0M229.2 438.4h0M230.2 439h0M231.2 441h0M232.2 440.1h0M233.2 439.3h0M234.2 440.5h0M235.2 441.1h0M236.2 442.3h0M237.2 440.5h0M238.2 442.1h0M239.2 442.3h0M240.2 441h0M241.2 441.5h0M242.2 443.3h0M243.2 443.3h0M244.2 442.5h0M245.2 442.1h0M246.2 442.9h0M247.2 441.7h0M248.2 441.8h0M249.2 441.2h0M250.2 442h0M251.2 441.9h0M252.2 444.5h0M253.2 441.9h0M254.2 443.2h0M255.2 443.3h0M256.2 442h0M257.2 443.2h0M258.2 440.3h0M259.2 442.5h0M260.2 443.3h0M261.2 440.5h0" fill="none" stroke="#aaaaaa" stroke-width="3.1" stroke-linecap="round"/>
<path d="M31.7 442H262" stroke="#222222" stroke-width="1.2"/>
<path d="M31.7 440.6 32.2 440.6 32.7 440.6 33.2 440.6 33.7 440.6 34.2 440.6 34.7 440.6 35.2 440.6 35.7 440.6 36.2 440.6 36.7 440.6 37.2 440.6 37.7 440.6 38.2 440.6 38.7 440.6 39.2 440.6 39.7 440.6 40.2 440.6 40.7 440.6 41.2 440.6 41.7 440.6 42.2 440.6 42.7 440.6 43.2 440.6 43.7 440.6 44.2 440.6 44.7 440.6 45.2 440.6 45.7 440.6 46.2 440.6 46.7 440.6 47.2 440.6 47.7 440.6 48.2 440.6 48.7 440.6 49.2 440.6 49.7 440.6 50.2 440.6 50.7 440.6 51.2 440.6 51.7 440.6 52.2 440.6 52.7 440.6 53.2 440.6 53.7 440.6 54.2 440.6 54.7 440.6 55.2 440.6 55.7 440.6 56.2 440.6 56.7 440.6 57.2 440.6 57.7 440.6 58.2 440.6 58.7 440.6 59.2 440.6 59.7 440.6 60.2 440.6 60.7 440.6 61.2 440.6 61.7 440.6 62.2 440.6 62.7 440.6 63.2 440.5 63.7 440.5 64.2 440.5 64.7 440.5 65.2 440.5 65.7 440.5 66.2 440.5 66.7 440.5 67.2 440.5 67.7 440.5 68.2 440.5 68.7 440.5 69.2 440.5 69.7 440.5 70.2 440.5 70.7 440.5 71.2 440.5 71.7 440.5 72.2 440.5 72.7 440.5 73.2 440.5 73.7 440.5 74.2 440.5 74.7 440.5 75.2 440.5 75.7 440.5 76.2 440.5 76.7 440.5 77.2 440.5 77.7 440.5 78.2 440.5 78.7 440.5 79.2 440.5 79.7 440.5 80.2 440.5 80.7 440.5 81.2 440.5 81.7 440.5 82.2 440.5 82.7 440.5 83.2 440.4 83.7 440.4 84.2 440.4 84.7 440.4 85.2 440.4 85.7 440.4 86.2 440.4 86.7 440.4 87.2 440.4 87.7 440.4 88.2 440.4 88.7 440.4 89.2 440.4 89.7 440.4 90.2 440.4 90.7 440.4 91.2 440.4 91.7 440.4 92.2 440.4 92.7 440.4 93.2 440.3 93.7 440.3 94.2 440.3 94.7 440.3 95.2 440.3 95.7 440.3 96.2 440.2 96.7 440.2 97.2 440.2 97.7 440.2 98.2 440.1 98.7 440.1 99.2 440.1 99.7 440.1 100.2 440 100.7 440 101.2 440 101.7 439.9 102.2 439.9 102.7 439.8 103.2 439.8 103.7 439.7 104.2 439.6 104.7 439.6 105.2 439.5 105.7 439.4 106.2 439.3 106.7 439.2 107.2 439.1 107.7 439.1 108.2 439 108.7 438.9 109.2 438.7 109.7 438.6 110.2 438.5 110.7 438.4 111.2 438.2 111.7 438 112.2 437.9 112.7 437.7 113.2 437.5 113.7 437.3 114.2 437.1 114.7 436.9 115.2 436.7 115.7 436.5 116.2 436.3 116.7 436.1 117.2 435.8 117.7 435.5 118.2 435.2 118.7 434.9 119.2 434.6 119.7 434.2 120.2 433.9 120.7 433.5 121.2 433.1 121.7 432.7 122.2 432.3 122.7 431.8 123.2 431.4 123.7 430.9 124.2 430.4 124.7 429.9 125.2 429.4 125.7 428.9 126.2 428.5 126.7 428 127.2 427.5 127.7 427 128.2 426.6 128.7 426.1 129.2 425.6 129.7 425.1 130.2 424.5 130.7 424 131.2 423.4 131.7 422.8 132.2 422.2 132.7 421.6 133.2 420.9 133.7 420.3 134.2 419.6 134.7 418.9 135.2 418.2 135.7 417.5 136.2 416.8 136.7 416.1 137.2 415.3 137.7 414.6 138.2 413.8 138.7 413.1 139.2 412.3 139.7 411.5 140.2 410.7 140.7 410 141.2 409.2 141.7 408.4 142.2 407.6 142.7 406.8 143.2 406 143.7 405.1 144.2 404.3 144.7 403.5 145.2 402.7 145.7 401.9 146.2 401.1 146.7 400.4 147.2 399.8 147.7 399.1 148.2 398.4 148.7 397.7 149.2 397.1 149.7 396.6 150.2 396.1 150.7 395.6 151.2 395.2 151.7 394.8 152.2 394.5 152.7 394.1 153.2 393.8 153.7 393.5 154.2 393.3 154.7 393 155.2 392.9 155.7 392.8 156.2 392.6 156.7 392.6 157.2 392.5 157.7 392.4 158.2 392.4 158.7 392.4 159.2 392.5 159.7 392.5 160.2 392.6 160.7 392.7 161.2 392.8 161.7 392.9 162.2 392.9 162.7 393 163.2 393.1 163.7 393.2 164.2 393.3 164.7 393.3 165.2 393.4 165.7 393.4 166.2 393.4 166.7 393.3 167.2 393.2 167.7 393 168.2 392.9 168.7 392.7 169.2 392.5 169.7 392.3 170.2 392.1 170.7 391.8 171.2 391.5 171.7 391.2 172.2 390.8 172.7 390.4 173.2 389.9 173.7 389.3 174.2 388.8 174.7 388 175.2 387.2 175.7 386.4 176.2 385.6 176.7 384.9 177.2 384.1 177.7 383.4 178.2 382.6 178.7 381.8 179.2 380.9 179.7 380 180.2 379.1 180.7 378.1 181.2 377.1 181.7 376 182.2 374.9 182.7 373.9 183.2 372.9 183.7 371.9 184.2 371 184.7 370.2 185.2 369.3 185.7 368.5 186.2 367.8 186.7 367 187.2 366.3 187.7 365.6 188.2 364.9 188.7 364.3 189.2 363.7 189.7 363.2 190.2 362.9 190.7 362.5 191.2 362.2 191.7 361.9 192.2 361.8 192.7 361.7 193.2 361.7 193.7 361.8 194.2 362 194.7 362.2 195.2 362.4 195.7 362.6 196.2 363 196.7 363.6 197.2 364.3 197.7 365.1 198.2 365.8 198.7 366.7 199.2 367.6 199.7 368.6 200.2 369.8 200.7 371 201.2 372.4 201.7 373.9 202.2 375.6 202.7 377.3 203.2 379 203.7 380.7 204.2 382.5 204.7 384.3 205.2 386.2 205.7 388 206.2 389.8 206.7 391.6 207.2 393.4 207.7 395.2 208.2 397 208.7 398.7 209.2 400.3 209.7 401.8 210.2 403.1 210.7 404.3 211.2 405.5 211.7 406.6 212.2 407.7 212.7 408.8 213.2 409.9 213.7 411.1 214.2 412.4 214.7 413.8 215.2 415.2 215.7 416.7 216.2 418.2 216.7 419.7 217.2 421.2 217.7 422.5 218.2 423.9 218.7 425.2 219.2 426.5 219.7 427.7 220.2 428.8 220.7 429.8 221.2 430.8 221.7 431.7 222.2 432.6 222.7 433.4 223.2 434.1 223.7 434.8 224.2 435.4 224.7 436 225.2 436.5 225.7 437.1 226.2 437.5 226.7 437.9 227.2 438.3 227.7 438.6 228.2 438.9 228.7 439.1 229.2 439.4 229.7 439.7 230.2 439.9 230.7 440.1 231.2 440.3 231.7 440.5 232.2 440.7 232.7 440.8 233.2 440.9 233.7 441 234.2 441 234.7 441.1 235.2 441.1 235.7 441.2 236.2 441.2 236.7 441.2 237.2 441.3 237.7 441.3 238.2 441.3 238.7 441.4 239.2 441.4 239.7 441.4 240.2 441.4 240.7 441.5 241.2 441.5 241.7 441.5 242.2 441.5 242.7 441.5 243.2 441.5 243.7 441.6 244.2 441.6 244.7 441.6 245.2 441.6 245.7 441.6 246.2 441.6 246.7 441.7 247.2 441.7 247.7 441.7 248.2 441.7 248.7 441.7 249.2 441.7 249.7 441.8 250.2 441.8 250.7 441.8 251.2 441.8 251.7 441.8 252.2 441.8 252.7 441.8 253.2 441.9 253.7 441.9 254.2 441.9 254.7 441.9 255.2 441.9 255.7 441.9 256.2 441.9 256.7 441.9 257.2 441.9 257.7 442 258.2 442 258.7 442 259.2 442 259.7 442 260.2 442 260.7 442 261.2 442 261.7 442" fill="none" stroke="#c0104c" stroke-width="1.7" stroke-linejoin="round" stroke-linecap="round" />
<rect x="30.7" y="238.6" width="232.3" height="217.2" fill="none" stroke="#000" stroke-width="1.9"/>
<path d="M30.7 346.8H263" stroke="#000" stroke-width="1.9"/>
<path d="M30.7 455.8v3.8M77.2 455.8v3.8M123.6 455.8v3.8M170.1 455.8v3.8M216.5 455.8v3.8M263 455.8v3.8M53.9 455.8v2M100.4 455.8v2M146.8 455.8v2M193.3 455.8v2M239.8 455.8v2" stroke="#000" stroke-width="1.4" fill="none"/>
<text x="30.7" y="469.3" font-size="9.1" font-weight="bold" font-family='"Liberation Serif", serif' text-anchor="middle" fill="#000" stroke="#000" stroke-width="0.3" >538</text>
<text x="77.2" y="469.3" font-size="9.1" font-weight="bold" font-family='"Liberation Serif", serif' text-anchor="middle" fill="#000" stroke="#000" stroke-width="0.3" >536</text>
<text x="123.6" y="469.3" font-size="9.1" font-weight="bold" font-family='"Liberation Serif", serif' text-anchor="middle" fill="#000" stroke="#000" stroke-width="0.3" >534</text>
<text x="170.1" y="469.3" font-size="9.1" font-weight="bold" font-family='"Liberation Serif", serif' text-anchor="middle" fill="#000" stroke="#000" stroke-width="0.3" >532</text>
<text x="216.5" y="469.3" font-size="9.1" font-weight="bold" font-family='"Liberation Serif", serif' text-anchor="middle" fill="#000" stroke="#000" stroke-width="0.3" >530</text>
<text x="263" y="469.3" font-size="9.1" font-weight="bold" font-family='"Liberation Serif", serif' text-anchor="middle" fill="#000" stroke="#000" stroke-width="0.3" >528</text>
<text x="97.6" y="481.8" font-size="10.6" font-weight="bold" font-family='"Liberation Sans", sans-serif' text-anchor="start" fill="#000" stroke="#000" stroke-width="0.3" textLength="98.7" lengthAdjust="spacingAndGlyphs">Binding energy (eV)</text>
<text x="21.8" y="351.6" font-size="10.7" font-weight="bold" font-family='"Liberation Sans", sans-serif' text-anchor="middle" fill="#000" stroke="#000" stroke-width="0.3" transform="rotate(-90 21.8 351.6)">Intensity (a.u.)</text>
<text x="0" y="0" font-size="14" font-weight="normal" font-family='"Liberation Sans", sans-serif' text-anchor="start" fill="#000" stroke="#000" stroke-width="0.05" transform="translate(2.9 254) scale(1.17 1)">(c)</text>
<text x="257.4" y="251.8" font-size="8.9" font-weight="bold" font-family='"Liberation Sans", sans-serif' text-anchor="end" fill="#000" stroke="#000" stroke-width="0.3" >O 1s</text>
<text x="65.3" y="287.9" font-size="8.4" font-weight="bold" font-family='"Liberation Sans", sans-serif' text-anchor="start" fill="#000" stroke="#000" stroke-width="0.3" >O<tspan font-size="6" dy="2">V</tspan><tspan dy="-2">:51.7%</tspan></text>
<text x="65.3" y="300.4" font-size="8.4" font-weight="bold" font-family='"Liberation Sans", sans-serif' text-anchor="start" fill="#000" stroke="#000" stroke-width="0.3" >O<tspan font-size="6" dy="2">L</tspan><tspan dy="-2">:48.3%</tspan></text>
<text x="66" y="381.3" font-size="8.4" font-weight="bold" font-family='"Liberation Sans", sans-serif' text-anchor="start" fill="#000" stroke="#000" stroke-width="0.3" >O<tspan font-size="6" dy="2">V</tspan><tspan dy="-2">:55.4%</tspan></text>
<text x="66" y="393.6" font-size="8.4" font-weight="bold" font-family='"Liberation Sans", sans-serif' text-anchor="start" fill="#000" stroke="#000" stroke-width="0.3" >O<tspan font-size="6" dy="2">L</tspan><tspan dy="-2">:44.6%</tspan></text>
<text x="36.1" y="326.5" font-size="9.1" font-weight="bold" font-family='"Liberation Sans", sans-serif' text-anchor="start" fill="#000" stroke="#000" stroke-width="0.3" >ZIF(3)-ZnO</text>
<text x="38.3" y="433.4" font-size="8.7" font-weight="bold" font-family='"Liberation Sans", sans-serif' text-anchor="start" fill="#000" stroke="#000" stroke-width="0.3" >ZnO</text>
<text x="149.4" y="321.1" font-size="9.3" font-weight="bold" font-family='"Liberation Sans", sans-serif' text-anchor="start" fill="#000" stroke="#000" stroke-width="0.3" >O<tspan font-size="6.5" dy="2.5">V</tspan></text>
<text x="188.2" y="308.4" font-size="8.8" font-weight="bold" font-family='"Liberation Sans", sans-serif' text-anchor="start" fill="#000" stroke="#000" stroke-width="0.3" >O<tspan font-size="5.8" dy="2.0">L</tspan></text>
<text x="150.8" y="424.6" font-size="9.0" font-weight="bold" font-family='"Liberation Sans", sans-serif' text-anchor="start" fill="#000" stroke="#000" stroke-width="0.3" >O<tspan font-size="6.3" dy="2.3">V</tspan></text>
<text x="189.8" y="409.7" font-size="8.8" font-weight="bold" font-family='"Liberation Sans", sans-serif' text-anchor="start" fill="#000" stroke="#000" stroke-width="0.3" >O<tspan font-size="5.8" dy="2.0">L</tspan></text>
<rect x="308.3" y="237.8" width="232.2" height="218.3" fill="none" stroke="#000" stroke-width="1.9"/>
<path d="M308.3 347.2H540.5" stroke="#000" stroke-width="1.9"/>
<path d="M309.3 328.4 310 328.4 310.7 328.4 311.4 328.4 312.1 328.4 312.8 328.4 313.5 328.4 314.2 328.4 314.9 328.4 315.6 328.4 316.3 328.4 317 328.4 317.7 328.4 318.4 328.4 319.1 328.4 319.8 328.4 320.5 328.4 321.2 328.4 321.9 328.4 322.6 328.4 323.3 328.4 324 328.4 324.7 328.4 325.4 328.4 326.1 328.4 326.8 328.4 327.5 328.4 328.2 328.4 328.9 328.4 329.6 328.4 330.3 328.4 331 328.4 331.7 328.4 332.4 328.4 333.1 328.4 333.8 328.4 334.5 328.4 335.2 328.4 335.9 328.4 336.6 328.4 337.3 328.4 338 328.4 338.7 328.4 339.4 328.4 340.1 328.4 340.8 328.4 341.5 328.4 342.2 328.4 342.9 328.4 343.6 328.4 344.3 328.4 345 328.4 345.7 328.3 346.4 328.3 347.1 328.3 347.8 328.3 348.5 328.3 349.2 328.3 349.9 328.3 350.6 328.3 351.3 328.3 352 328.3 352.7 328.3 353.4 328.3 354.1 328.3 354.8 328.3 355.5 328.3 356.2 328.3 356.9 328.3 357.6 328.3 358.3 328.3 359 328.3 359.7 328.3 360.4 328.3 361.1 328.3 361.8 328.3 362.5 328.3 363.2 328.3 363.9 328.3 364.6 328.3 365.3 328.3 366 328.2 366.7 328.2 367.4 328.2 368.1 328.2 368.8 328.2 369.5 328.2 370.2 328.2 370.9 328.1 371.6 328.1 372.3 328.1 373 328.1 373.7 328.1 374.4 328.1 375.1 328 375.8 328 376.5 328 377.2 328 377.9 327.9 378.6 327.9 379.3 327.9 380 327.9 380.7 327.8 381.4 327.8 382.1 327.8 382.8 327.8 383.5 327.7 384.2 327.7 384.9 327.7 385.6 327.6 386.3 327.6 387 327.6 387.7 327.6 388.4 327.5 389.1 327.5 389.8 327.5 390.5 327.4 391.2 327.4 391.9 327.4 392.6 327.3 393.3 327.3 394 327.3 394.7 327.2 395.4 327.2 396.1 327.1 396.8 327.1 397.5 327 398.2 327 398.9 326.9 399.6 326.9 400.3 326.8 401 326.7 401.7 326.7 402.4 326.6 403.1 326.5 403.8 326.4 404.5 326.4 405.2 326.3 405.9 326.2 406.6 326 407.3 325.9 408 325.8 408.7 325.6 409.4 325.5 410.1 325.3 410.8 325.2 411.5 325 412.2 324.8 412.9 324.6 413.6 324.4 414.3 324.2 415 323.9 415.7 323.7 416.4 323.4 417.1 323.1 417.8 322.7 418.5 322.3 419.2 321.9 419.9 321.5 420.6 321 421.3 320.5 422 320 422.7 319.5 423.4 318.9 424.1 318.3 424.8 317.6 425.5 316.9 426.2 316.2 426.9 315.3 427.6 314.3 428.3 313.2 429 312.1 429.7 310.9 430.4 309.6 431.1 308.2 431.8 306.8 432.5 305.4 433.2 304 433.9 302.6 434.6 301.1 435.3 299.7 436 298.3 436.7 296.9 437.4 295.5 438.1 294.2 438.8 292.8 439.5 291.4 440.2 290.1 440.9 288.8 441.6 287.8 442.3 286.8 443 286 443.7 285.1 444.4 284.3 445.1 283.3 445.8 282.3 446.5 281.3 447.2 280.4 447.9 279.7 448.6 279.1 449.3 278.5 450 277.9 450.7 277.4 451.4 277 452.1 276.7 452.8 276.3 453.5 276.1 454.2 275.9 454.9 275.7 455.6 275.4 456.3 275.2 457 275 457.7 274.7 458.4 274.5 459.1 274.3 459.8 274 460.5 273.8 461.2 273.7 461.9 273.5 462.6 273.2 463.3 273 464 272.8 464.7 272.5 465.4 272.1 466.1 271.8 466.8 271.4 467.5 271.2 468.2 271 468.9 270.7 469.6 270.6 470.3 270.6 471 270.5 471.7 270 472.4 269.7 473.1 269.8 473.8 269.7 474.5 269.5 475.2 269.4 475.9 269.2 476.6 268.9 477.3 268.9 478 268.9 478.7 268.5 479.4 268.4 480.1 268.5 480.8 268 481.5 267.6 482.2 267.7 482.9 267.6 483.6 267.4 484.3 267.2 485 267 485.7 266.8 486.4 266.6 487.1 266.6 487.8 266.2 488.5 266 489.2 266 489.9 266 490.6 265.7 491.3 265.5 492 265.3 492.7 264.9 493.4 264.8 494.1 264.8 494.8 264.7 495.5 264.7 496.2 264.8 496.9 264.7 497.6 264.3 498.3 264.1 499 263.9 499.7 263.9 500.4 264.4 501.1 264 501.8 263.6 502.5 263.8 503.2 263.4 503.9 263 504.6 263.3 505.3 263.3 506 262.8 506.7 262.6 507.4 262.4 508.1 262.1 508.8 262 509.5 261.8 510.2 261.2 510.9 260.9 511.6 260.9 512.3 261 513 261.1 513.7 261.2 514.4 261.1 515.1 260.9 515.8 260.7 516.5 260.6 517.2 260.8 517.9 260.9 518.6 260.3 519.3 259.8 520 259.4 520.7 258.9 521.4 258.5 522.1 258.2 522.8 258.1 523.5 258.1 524.2 257.9 524.9 258 525.6 258.3 526.3 258.6 527 259 527.7 259 528.4 258.9 529.1 258.9 529.8 258.5 530.5 257.8 531.2 257.2 531.9 256.8 532.6 256.8 533.3 256.7 534 256.3 534.7 256.2 535.4 256.4 536.1 256.4 536.8 256.2 537.5 256.2 538.2 256.2 538.9 255.9 539.6 255.5" fill="none" stroke="#c0104c" stroke-width="1.8" stroke-linejoin="round" stroke-linecap="round" />
<path d="M309.3 437.8 310 437.8 310.7 437.8 311.4 437.8 312.1 437.8 312.8 437.8 313.5 437.8 314.2 437.8 314.9 437.8 315.6 437.8 316.3 437.8 317 437.8 317.7 437.8 318.4 437.8 319.1 437.8 319.8 437.8 320.5 437.8 321.2 437.8 321.9 437.8 322.6 437.8 323.3 437.8 324 437.8 324.7 437.8 325.4 437.8 326.1 437.8 326.8 437.8 327.5 437.8 328.2 437.8 328.9 437.8 329.6 437.8 330.3 437.8 331 437.8 331.7 437.8 332.4 437.8 333.1 437.8 333.8 437.8 334.5 437.8 335.2 437.8 335.9 437.8 336.6 437.8 337.3 437.8 338 437.8 338.7 437.8 339.4 437.8 340.1 437.8 340.8 437.8 341.5 437.8 342.2 437.8 342.9 437.8 343.6 437.8 344.3 437.8 345 437.7 345.7 437.7 346.4 437.7 347.1 437.7 347.8 437.7 348.5 437.7 349.2 437.7 349.9 437.7 350.6 437.7 351.3 437.7 352 437.7 352.7 437.7 353.4 437.7 354.1 437.7 354.8 437.7 355.5 437.7 356.2 437.7 356.9 437.7 357.6 437.7 358.3 437.7 359 437.7 359.7 437.7 360.4 437.7 361.1 437.7 361.8 437.7 362.5 437.7 363.2 437.7 363.9 437.7 364.6 437.7 365.3 437.7 366 437.7 366.7 437.7 367.4 437.7 368.1 437.6 368.8 437.6 369.5 437.6 370.2 437.6 370.9 437.6 371.6 437.6 372.3 437.6 373 437.6 373.7 437.6 374.4 437.6 375.1 437.6 375.8 437.6 376.5 437.5 377.2 437.5 377.9 437.5 378.6 437.5 379.3 437.5 380 437.5 380.7 437.5 381.4 437.5 382.1 437.5 382.8 437.4 383.5 437.4 384.2 437.4 384.9 437.4 385.6 437.4 386.3 437.4 387 437.4 387.7 437.4 388.4 437.3 389.1 437.3 389.8 437.3 390.5 437.3 391.2 437.3 391.9 437.3 392.6 437.3 393.3 437.2 394 437.2 394.7 437.2 395.4 437.2 396.1 437.2 396.8 437.2 397.5 437.1 398.2 437.1 398.9 437.1 399.6 437.1 400.3 437 401 437 401.7 437 402.4 437 403.1 436.9 403.8 436.9 404.5 436.9 405.2 436.8 405.9 436.8 406.6 436.7 407.3 436.7 408 436.6 408.7 436.6 409.4 436.5 410.1 436.4 410.8 436.3 411.5 436.2 412.2 436.1 412.9 436 413.6 435.8 414.3 435.7 415 435.6 415.7 435.4 416.4 435.2 417.1 435.1 417.8 434.9 418.5 434.7 419.2 434.4 419.9 434.2 420.6 434 421.3 433.7 422 433.4 422.7 433 423.4 432.6 424.1 432.2 424.8 431.8 425.5 431.3 426.2 430.8 426.9 430.3 427.6 429.8 428.3 429.2 429 428.6 429.7 427.8 430.4 427.1 431.1 426.1 431.8 425 432.5 423.9 433.2 422.6 433.9 421.3 434.6 420 435.3 418.5 436 416.9 436.7 415.4 437.4 413.9 438.1 412.4 438.8 410.9 439.5 409.5 440.2 408 440.9 406.5 441.6 405.1 442.3 403.7 443 402.3 443.7 400.9 444.4 399.6 445.1 398.3 445.8 397 446.5 395.9 447.2 394.8 447.9 393.8 448.6 392.8 449.3 392 450 391.2 450.7 390.4 451.4 389.8 452.1 389.2 452.8 388.7 453.5 388.2 454.2 387.8 454.9 387.5 455.6 387.2 456.3 386.9 457 386.5 457.7 386.2 458.4 386 459.1 385.7 459.8 385.4 460.5 385.1 461.2 385 461.9 384.7 462.6 384.4 463.3 384.3 464 384 464.7 383.3 465.4 383 466.1 382.9 466.8 382.7 467.5 382.2 468.2 381.9 468.9 381.8 469.6 381.5 470.3 381.5 471 381.7 471.7 381.6 472.4 380.9 473.1 380.4 473.8 380 474.5 379.5 475.2 379.4 475.9 379.2 476.6 378.7 477.3 378.6 478 378.8 478.7 378.8 479.4 378.7 480.1 378.5 480.8 378 481.5 377.5 482.2 377.3 482.9 377.6 483.6 377.8 484.3 377.7 485 377.4 485.7 377 486.4 376.8 487.1 376.6 487.8 376.7 488.5 377.2 489.2 377 489.9 376.4 490.6 376.2 491.3 376 492 375.9 492.7 375.9 493.4 375.7 494.1 375.5 494.8 375.4 495.5 375.2 496.2 374.9 496.9 374.7 497.6 374.8 498.3 374.9 499 374.9 499.7 375.1 500.4 375.3 501.1 375.1 501.8 374.7 502.5 374.5 503.2 374.5 503.9 374.6 504.6 374.3 505.3 373.8 506 374 506.7 373.7 507.4 373 508.1 373 508.8 373 509.5 372.6 510.2 372.6 510.9 372.8 511.6 373 512.3 373.3 513 373.4 513.7 373 514.4 372.7 515.1 372.5 515.8 372.1 516.5 371.6 517.2 371.2 517.9 371.5 518.6 371.9 519.3 372 520 371.7 520.7 371.1 521.4 370.7 522.1 370.8 522.8 370.5 523.5 369.7 524.2 369.2 524.9 369.2 525.6 369.5 526.3 369.5 527 369.5 527.7 369.8 528.4 370 529.1 369.9 529.8 369.7 530.5 369.5 531.2 369.4 531.9 369.8 532.6 369.7 533.3 368.8 534 368.4 534.7 368.3 535.4 368 536.1 367.8 536.8 367.7 537.5 367.7 538.2 367.5 538.9 367.4 539.6 367.5" fill="none" stroke="#12a244" stroke-width="1.8" stroke-linejoin="round" stroke-linecap="round" />
<path d="M415.6 334L454.5 267.6M415.5 456L453.5 383" stroke="#1c3c6e" stroke-width="1.5" stroke-dasharray="5 3.2" fill="none"/>
<path d="M450.7 303.5L442.1 308.2" stroke="#1c3c6e" stroke-width="1.6" fill="none"/>
<path d="M437.7 310.6L441.8 305.5L444.2 309.9Z" fill="#1c3c6e"/>
<path d="M456.8 415.8L447.4 421.3" stroke="#1c3c6e" stroke-width="1.6" fill="none"/>
<path d="M443.1 423.8L447 418.6L449.5 422.9Z" fill="#1c3c6e"/>
<text x="451.6" y="302.1" font-size="8.2" font-weight="bold" font-family='"Liberation Sans", sans-serif' text-anchor="start" fill="#1c3c6e" stroke="#1c3c6e" stroke-width="0.3" >3.08 eV</text>
<text x="459.1" y="415" font-size="8.2" font-weight="bold" font-family='"Liberation Sans", sans-serif' text-anchor="start" fill="#1c3c6e" stroke="#1c3c6e" stroke-width="0.3" >3.14 eV</text>
<path d="M320.2 307.5H337.5" stroke="#c0104c" stroke-width="1.8"/>
<path d="M324.2 422.8H341.4" stroke="#12a244" stroke-width="1.8"/>
<text x="340.8" y="310.5" font-size="8.4" font-weight="normal" font-family='"Liberation Sans", sans-serif' text-anchor="start" fill="#000" stroke="#000" stroke-width="0.35" >ZIF(3)-ZnO</text>
<text x="345" y="426" font-size="8.5" font-weight="normal" font-family='"Liberation Sans", sans-serif' text-anchor="start" fill="#000" stroke="#000" stroke-width="0.35" >ZnO</text>
<path d="M308.3 456.1v3.8M337.3 456.1v3.8M366.4 456.1v3.8M395.4 456.1v3.8M424.4 456.1v3.8M453.4 456.1v3.8M482.5 456.1v3.8M511.5 456.1v3.8M540.5 456.1v3.8M322.8 456.1v2M351.8 456.1v2M380.9 456.1v2M409.9 456.1v2M438.9 456.1v2M467.9 456.1v2M497 456.1v2M526 456.1v2" stroke="#000" stroke-width="1.4" fill="none"/>
<text x="308.3" y="468.2" font-size="8.2" font-weight="normal" font-family='"Liberation Sans", sans-serif' text-anchor="middle" fill="#000" stroke="#000" stroke-width="0.05" >2.4</text>
<text x="337.3" y="468.2" font-size="8.2" font-weight="normal" font-family='"Liberation Sans", sans-serif' text-anchor="middle" fill="#000" stroke="#000" stroke-width="0.05" >2.6</text>
<text x="366.4" y="468.2" font-size="8.2" font-weight="normal" font-family='"Liberation Sans", sans-serif' text-anchor="middle" fill="#000" stroke="#000" stroke-width="0.05" >2.8</text>
<text x="395.4" y="468.2" font-size="8.2" font-weight="normal" font-family='"Liberation Sans", sans-serif' text-anchor="middle" fill="#000" stroke="#000" stroke-width="0.05" >3.0</text>
<text x="424.4" y="468.2" font-size="8.2" font-weight="normal" font-family='"Liberation Sans", sans-serif' text-anchor="middle" fill="#000" stroke="#000" stroke-width="0.05" >3.2</text>
<text x="453.4" y="468.2" font-size="8.2" font-weight="normal" font-family='"Liberation Sans", sans-serif' text-anchor="middle" fill="#000" stroke="#000" stroke-width="0.05" >3.4</text>
<text x="482.5" y="468.2" font-size="8.2" font-weight="normal" font-family='"Liberation Sans", sans-serif' text-anchor="middle" fill="#000" stroke="#000" stroke-width="0.05" >3.6</text>
<text x="511.5" y="468.2" font-size="8.2" font-weight="normal" font-family='"Liberation Sans", sans-serif' text-anchor="middle" fill="#000" stroke="#000" stroke-width="0.05" >3.8</text>
<text x="540.5" y="468.2" font-size="8.2" font-weight="normal" font-family='"Liberation Sans", sans-serif' text-anchor="middle" fill="#000" stroke="#000" stroke-width="0.05" >4.0</text>
<text x="424.1" y="484.6" font-size="10.3" font-weight="bold" font-family='"Liberation Sans", sans-serif' text-anchor="middle" fill="#000" stroke="#000" stroke-width="0.3" >h&#651; (eV)</text>
<text x="0" y="0" font-size="14" font-weight="normal" font-family='"Liberation Sans", sans-serif' text-anchor="start" fill="#000" stroke="#000" stroke-width="0.05" transform="translate(281.7 254) scale(1.1 1)">(d)</text>
<text transform="translate(293.2 356.2) rotate(-90)" font-family='"Liberation Serif", serif' font-size="10.6" font-weight="bold">(&#945;h&#651;)<tspan font-weight="bold" font-family='"Liberation Sans", sans-serif' font-size="9" dy="-6.5">2</tspan></text>
</g>
</svg></body></html>
